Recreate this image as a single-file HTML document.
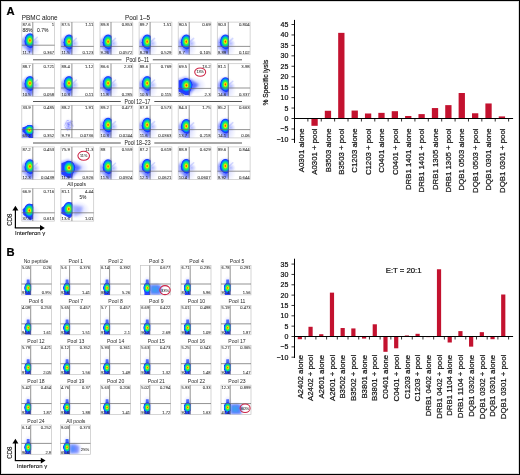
<!DOCTYPE html>
<html><head><meta charset="utf-8"><style>
html,body{margin:0;padding:0;background:#fff;width:520px;height:475px;overflow:hidden;}
svg{display:block;will-change:transform;}
</style></head><body>
<svg width="520" height="475" viewBox="0 0 520 475" font-family='"Liberation Sans", sans-serif'><defs>
<radialGradient id="jet" cx="50%" cy="50%" r="50%">
 <stop offset="0" stop-color="#ff3000"/>
 <stop offset="0.10" stop-color="#ff7800"/>
 <stop offset="0.22" stop-color="#f0f000"/>
 <stop offset="0.38" stop-color="#40f040"/>
 <stop offset="0.56" stop-color="#00d8a0"/>
 <stop offset="0.72" stop-color="#0080ff"/>
 <stop offset="0.86" stop-color="#1a3cff"/>
 <stop offset="1" stop-color="#1a3cff" stop-opacity="0"/>
</radialGradient>
<radialGradient id="bluehalo" cx="50%" cy="50%" r="50%">
 <stop offset="0" stop-color="#2a3cff" stop-opacity="0.9"/>
 <stop offset="0.5" stop-color="#4a5cff" stop-opacity="0.55"/>
 <stop offset="1" stop-color="#8a90ff" stop-opacity="0"/>
</radialGradient>
<radialGradient id="scatter" cx="50%" cy="50%" r="50%">
 <stop offset="0" stop-color="#7080ff" stop-opacity="0.45"/>
 <stop offset="1" stop-color="#a0a8ff" stop-opacity="0"/>
</radialGradient>
<filter id="bl" x="-50%" y="-50%" width="200%" height="200%"><feGaussianBlur stdDeviation="0.7"/></filter><filter id="bl2" x="-50%" y="-50%" width="200%" height="200%"><feGaussianBlur stdDeviation="1.1"/></filter>
<clipPath id="c0"><rect x="21.80" y="22.10" width="32.80" height="32.60"/></clipPath><clipPath id="c0L"><rect x="21.80" y="22.10" width="11.50" height="32.60"/></clipPath><clipPath id="c1"><rect x="60.90" y="22.10" width="32.80" height="32.60"/></clipPath><clipPath id="c1L"><rect x="60.90" y="22.10" width="11.50" height="32.60"/></clipPath><clipPath id="c2"><rect x="100.00" y="22.10" width="32.80" height="32.60"/></clipPath><clipPath id="c2L"><rect x="100.00" y="22.10" width="11.50" height="32.60"/></clipPath><clipPath id="c3"><rect x="139.10" y="22.10" width="32.80" height="32.60"/></clipPath><clipPath id="c3L"><rect x="139.10" y="22.10" width="11.50" height="32.60"/></clipPath><clipPath id="c4"><rect x="178.20" y="22.10" width="32.80" height="32.60"/></clipPath><clipPath id="c4L"><rect x="178.20" y="22.10" width="11.50" height="32.60"/></clipPath><clipPath id="c5"><rect x="217.30" y="22.10" width="32.80" height="32.60"/></clipPath><clipPath id="c5L"><rect x="217.30" y="22.10" width="11.50" height="32.60"/></clipPath><clipPath id="c6"><rect x="21.80" y="63.70" width="32.80" height="32.60"/></clipPath><clipPath id="c6L"><rect x="21.80" y="63.70" width="11.50" height="32.60"/></clipPath><clipPath id="c7"><rect x="60.90" y="63.70" width="32.80" height="32.60"/></clipPath><clipPath id="c7L"><rect x="60.90" y="63.70" width="11.50" height="32.60"/></clipPath><clipPath id="c8"><rect x="100.00" y="63.70" width="32.80" height="32.60"/></clipPath><clipPath id="c8L"><rect x="100.00" y="63.70" width="11.50" height="32.60"/></clipPath><clipPath id="c9"><rect x="139.10" y="63.70" width="32.80" height="32.60"/></clipPath><clipPath id="c9L"><rect x="139.10" y="63.70" width="11.50" height="32.60"/></clipPath><clipPath id="c10"><rect x="178.20" y="63.70" width="32.80" height="32.60"/></clipPath><clipPath id="c10L"><rect x="178.20" y="63.70" width="11.50" height="32.60"/></clipPath><clipPath id="c11"><rect x="217.30" y="63.70" width="32.80" height="32.60"/></clipPath><clipPath id="c11L"><rect x="217.30" y="63.70" width="11.50" height="32.60"/></clipPath><clipPath id="c12"><rect x="21.80" y="105.30" width="32.80" height="32.60"/></clipPath><clipPath id="c12L"><rect x="21.80" y="105.30" width="11.50" height="32.60"/></clipPath><clipPath id="c13"><rect x="60.90" y="105.30" width="32.80" height="32.60"/></clipPath><clipPath id="c13L"><rect x="60.90" y="105.30" width="11.50" height="32.60"/></clipPath><clipPath id="c14"><rect x="100.00" y="105.30" width="32.80" height="32.60"/></clipPath><clipPath id="c14L"><rect x="100.00" y="105.30" width="11.50" height="32.60"/></clipPath><clipPath id="c15"><rect x="139.10" y="105.30" width="32.80" height="32.60"/></clipPath><clipPath id="c15L"><rect x="139.10" y="105.30" width="11.50" height="32.60"/></clipPath><clipPath id="c16"><rect x="178.20" y="105.30" width="32.80" height="32.60"/></clipPath><clipPath id="c16L"><rect x="178.20" y="105.30" width="11.50" height="32.60"/></clipPath><clipPath id="c17"><rect x="217.30" y="105.30" width="32.80" height="32.60"/></clipPath><clipPath id="c17L"><rect x="217.30" y="105.30" width="11.50" height="32.60"/></clipPath><clipPath id="c18"><rect x="21.80" y="146.90" width="32.80" height="32.60"/></clipPath><clipPath id="c18L"><rect x="21.80" y="146.90" width="11.50" height="32.60"/></clipPath><clipPath id="c19"><rect x="60.90" y="146.90" width="32.80" height="32.60"/></clipPath><clipPath id="c19L"><rect x="60.90" y="146.90" width="11.50" height="32.60"/></clipPath><clipPath id="c20"><rect x="100.00" y="146.90" width="32.80" height="32.60"/></clipPath><clipPath id="c20L"><rect x="100.00" y="146.90" width="11.50" height="32.60"/></clipPath><clipPath id="c21"><rect x="139.10" y="146.90" width="32.80" height="32.60"/></clipPath><clipPath id="c21L"><rect x="139.10" y="146.90" width="11.50" height="32.60"/></clipPath><clipPath id="c22"><rect x="178.20" y="146.90" width="32.80" height="32.60"/></clipPath><clipPath id="c22L"><rect x="178.20" y="146.90" width="11.50" height="32.60"/></clipPath><clipPath id="c23"><rect x="217.30" y="146.90" width="32.80" height="32.60"/></clipPath><clipPath id="c23L"><rect x="217.30" y="146.90" width="11.50" height="32.60"/></clipPath><clipPath id="c24"><rect x="21.80" y="188.50" width="32.80" height="32.60"/></clipPath><clipPath id="c24L"><rect x="21.80" y="188.50" width="11.50" height="32.60"/></clipPath><clipPath id="c25"><rect x="60.90" y="188.50" width="32.80" height="32.60"/></clipPath><clipPath id="c25L"><rect x="60.90" y="188.50" width="11.50" height="32.60"/></clipPath><clipPath id="c26"><rect x="21.50" y="265.60" width="30.00" height="29.30"/></clipPath><clipPath id="c26L"><rect x="21.50" y="265.60" width="9.70" height="29.30"/></clipPath><clipPath id="c27"><rect x="60.40" y="265.60" width="30.00" height="29.30"/></clipPath><clipPath id="c27L"><rect x="60.40" y="265.60" width="9.70" height="29.30"/></clipPath><clipPath id="c28"><rect x="100.40" y="265.60" width="30.00" height="29.30"/></clipPath><clipPath id="c28L"><rect x="100.40" y="265.60" width="9.70" height="29.30"/></clipPath><clipPath id="c29"><rect x="140.60" y="265.60" width="30.00" height="29.30"/></clipPath><clipPath id="c29L"><rect x="140.60" y="265.60" width="9.70" height="29.30"/></clipPath><clipPath id="c30"><rect x="181.00" y="265.60" width="30.00" height="29.30"/></clipPath><clipPath id="c30L"><rect x="181.00" y="265.60" width="9.70" height="29.30"/></clipPath><clipPath id="c31"><rect x="221.00" y="265.60" width="30.00" height="29.30"/></clipPath><clipPath id="c31L"><rect x="221.00" y="265.60" width="9.70" height="29.30"/></clipPath><clipPath id="c32"><rect x="21.50" y="305.45" width="30.00" height="29.30"/></clipPath><clipPath id="c32L"><rect x="21.50" y="305.45" width="9.70" height="29.30"/></clipPath><clipPath id="c33"><rect x="60.40" y="305.45" width="30.00" height="29.30"/></clipPath><clipPath id="c33L"><rect x="60.40" y="305.45" width="9.70" height="29.30"/></clipPath><clipPath id="c34"><rect x="100.40" y="305.45" width="30.00" height="29.30"/></clipPath><clipPath id="c34L"><rect x="100.40" y="305.45" width="9.70" height="29.30"/></clipPath><clipPath id="c35"><rect x="140.60" y="305.45" width="30.00" height="29.30"/></clipPath><clipPath id="c35L"><rect x="140.60" y="305.45" width="9.70" height="29.30"/></clipPath><clipPath id="c36"><rect x="181.00" y="305.45" width="30.00" height="29.30"/></clipPath><clipPath id="c36L"><rect x="181.00" y="305.45" width="9.70" height="29.30"/></clipPath><clipPath id="c37"><rect x="221.00" y="305.45" width="30.00" height="29.30"/></clipPath><clipPath id="c37L"><rect x="221.00" y="305.45" width="9.70" height="29.30"/></clipPath><clipPath id="c38"><rect x="21.50" y="345.30" width="30.00" height="29.30"/></clipPath><clipPath id="c38L"><rect x="21.50" y="345.30" width="9.70" height="29.30"/></clipPath><clipPath id="c39"><rect x="60.40" y="345.30" width="30.00" height="29.30"/></clipPath><clipPath id="c39L"><rect x="60.40" y="345.30" width="9.70" height="29.30"/></clipPath><clipPath id="c40"><rect x="100.40" y="345.30" width="30.00" height="29.30"/></clipPath><clipPath id="c40L"><rect x="100.40" y="345.30" width="9.70" height="29.30"/></clipPath><clipPath id="c41"><rect x="140.60" y="345.30" width="30.00" height="29.30"/></clipPath><clipPath id="c41L"><rect x="140.60" y="345.30" width="9.70" height="29.30"/></clipPath><clipPath id="c42"><rect x="181.00" y="345.30" width="30.00" height="29.30"/></clipPath><clipPath id="c42L"><rect x="181.00" y="345.30" width="9.70" height="29.30"/></clipPath><clipPath id="c43"><rect x="221.00" y="345.30" width="30.00" height="29.30"/></clipPath><clipPath id="c43L"><rect x="221.00" y="345.30" width="9.70" height="29.30"/></clipPath><clipPath id="c44"><rect x="21.50" y="385.15" width="30.00" height="29.30"/></clipPath><clipPath id="c44L"><rect x="21.50" y="385.15" width="9.70" height="29.30"/></clipPath><clipPath id="c45"><rect x="60.40" y="385.15" width="30.00" height="29.30"/></clipPath><clipPath id="c45L"><rect x="60.40" y="385.15" width="9.70" height="29.30"/></clipPath><clipPath id="c46"><rect x="100.40" y="385.15" width="30.00" height="29.30"/></clipPath><clipPath id="c46L"><rect x="100.40" y="385.15" width="9.70" height="29.30"/></clipPath><clipPath id="c47"><rect x="140.60" y="385.15" width="30.00" height="29.30"/></clipPath><clipPath id="c47L"><rect x="140.60" y="385.15" width="9.70" height="29.30"/></clipPath><clipPath id="c48"><rect x="181.00" y="385.15" width="30.00" height="29.30"/></clipPath><clipPath id="c48L"><rect x="181.00" y="385.15" width="9.70" height="29.30"/></clipPath><clipPath id="c49"><rect x="221.00" y="385.15" width="30.00" height="29.30"/></clipPath><clipPath id="c49L"><rect x="221.00" y="385.15" width="9.70" height="29.30"/></clipPath><clipPath id="c50"><rect x="21.50" y="425.00" width="30.00" height="29.30"/></clipPath><clipPath id="c50L"><rect x="21.50" y="425.00" width="9.70" height="29.30"/></clipPath><clipPath id="c51"><rect x="60.40" y="425.00" width="30.00" height="29.30"/></clipPath><clipPath id="c51L"><rect x="60.40" y="425.00" width="9.70" height="29.30"/></clipPath></defs><rect x="0" y="0" width="520" height="475" fill="#fff"/><rect x="21.80" y="22.10" width="32.80" height="32.60" fill="none" stroke="#c4c4c4" stroke-width="0.7"/>
<g clip-path="url(#c0)">
<ellipse cx="29.80" cy="45.20" rx="11.00" ry="13.00" fill="url(#scatter)"/>
<line x1="32.30" y1="41.70" x2="37.30" y2="37.20" stroke="#8a94ff" stroke-opacity="0.35" stroke-width="1.5" stroke-linecap="round" filter="url(#bl)"/>
<ellipse cx="35.30" cy="42.20" rx="4.50" ry="4.00" fill="url(#scatter)"/>
<g clip-path="url(#c0L)"><polygon points="33.80,33.20 26.80,34.20 21.30,40.20 22.30,46.20 29.80,51.20 33.80,50.20" fill="#5a6aff" opacity="0.55" filter="url(#bl2)"/></g>
<g clip-path="url(#c0L)"><polygon points="26.80,45.20 33.30,45.20 33.30,52.70 30.80,53.70 27.80,51.20" fill="#4a5eff" opacity="0.5" filter="url(#bl2)"/></g>
<g clip-path="url(#c0L)"><polygon points="33.40,34.40 27.80,35.60 24.40,41.00 25.00,44.70 30.30,48.20 33.40,47.20" fill="#1e36ff" opacity="0.95" filter="url(#bl)"/></g>
<ellipse cx="29.90" cy="40.40" rx="5.60" ry="7.60" fill="url(#jet)" clip-path="url(#c0L)"/>
</g>
<line x1="32.80" y1="22.10" x2="32.80" y2="54.70" stroke="#666" stroke-width="0.7"/>
<line x1="21.80" y1="45.20" x2="54.60" y2="45.20" stroke="#666" stroke-width="0.7"/>
<text x="22.40" y="26.14" font-size="4.3" text-anchor="start" fill="#2a2a2a" stroke="#2a2a2a" stroke-width="0.05" >87.6</text>
<text x="54.20" y="26.14" font-size="4.3" text-anchor="end" fill="#2a2a2a" stroke="#2a2a2a" stroke-width="0.05" >1</text>
<text x="22.40" y="54.00" font-size="4.3" text-anchor="start" fill="#2a2a2a" stroke="#2a2a2a" stroke-width="0.05" >11.7</text>
<text x="54.20" y="54.00" font-size="4.3" text-anchor="end" fill="#2a2a2a" stroke="#2a2a2a" stroke-width="0.05" >0.367</text>
<text x="27.40" y="31.70" font-size="5" text-anchor="middle" fill="#2a2a2a" stroke="#2a2a2a" stroke-width="0.05" >88%</text>
<text x="42.80" y="31.70" font-size="5" text-anchor="middle" fill="#2a2a2a" stroke="#2a2a2a" stroke-width="0.05" >0.7%</text>
<rect x="60.90" y="22.10" width="32.80" height="32.60" fill="none" stroke="#c4c4c4" stroke-width="0.7"/>
<g clip-path="url(#c1)">
<ellipse cx="68.90" cy="46.40" rx="11.00" ry="13.00" fill="url(#scatter)"/>
<line x1="71.40" y1="42.90" x2="76.40" y2="38.40" stroke="#8a94ff" stroke-opacity="0.35" stroke-width="1.5" stroke-linecap="round" filter="url(#bl)"/>
<ellipse cx="74.40" cy="43.40" rx="4.50" ry="4.00" fill="url(#scatter)"/>
<g clip-path="url(#c1L)"><polygon points="72.90,34.40 65.90,35.40 60.40,41.40 61.40,47.40 68.90,52.40 72.90,51.40" fill="#5a6aff" opacity="0.55" filter="url(#bl2)"/></g>
<g clip-path="url(#c1L)"><polygon points="65.90,46.40 72.40,46.40 72.40,53.90 69.90,54.90 66.90,52.40" fill="#4a5eff" opacity="0.5" filter="url(#bl2)"/></g>
<g clip-path="url(#c1L)"><polygon points="72.50,35.60 66.90,36.80 63.50,42.20 64.10,45.90 69.40,49.40 72.50,48.40" fill="#1e36ff" opacity="0.95" filter="url(#bl)"/></g>
<ellipse cx="69.00" cy="41.60" rx="5.60" ry="7.60" fill="url(#jet)" clip-path="url(#c1L)"/>
</g>
<line x1="71.90" y1="22.10" x2="71.90" y2="54.70" stroke="#666" stroke-width="0.7"/>
<line x1="60.90" y1="46.40" x2="93.70" y2="46.40" stroke="#666" stroke-width="0.7"/>
<text x="61.50" y="26.14" font-size="4.3" text-anchor="start" fill="#2a2a2a" stroke="#2a2a2a" stroke-width="0.05" >87.5</text>
<text x="93.30" y="26.14" font-size="4.3" text-anchor="end" fill="#2a2a2a" stroke="#2a2a2a" stroke-width="0.05" >1.11</text>
<text x="61.50" y="54.00" font-size="4.3" text-anchor="start" fill="#2a2a2a" stroke="#2a2a2a" stroke-width="0.05" >11.5</text>
<text x="93.30" y="54.00" font-size="4.3" text-anchor="end" fill="#2a2a2a" stroke="#2a2a2a" stroke-width="0.05" >0.123</text>
<rect x="100.00" y="22.10" width="32.80" height="32.60" fill="none" stroke="#c4c4c4" stroke-width="0.7"/>
<g clip-path="url(#c2)">
<ellipse cx="108.00" cy="46.40" rx="11.00" ry="13.00" fill="url(#scatter)"/>
<line x1="110.50" y1="42.90" x2="115.50" y2="38.40" stroke="#8a94ff" stroke-opacity="0.35" stroke-width="1.5" stroke-linecap="round" filter="url(#bl)"/>
<ellipse cx="113.50" cy="43.40" rx="4.50" ry="4.00" fill="url(#scatter)"/>
<g clip-path="url(#c2L)"><polygon points="112.00,34.40 105.00,35.40 99.50,41.40 100.50,47.40 108.00,52.40 112.00,51.40" fill="#5a6aff" opacity="0.55" filter="url(#bl2)"/></g>
<g clip-path="url(#c2L)"><polygon points="105.00,46.40 111.50,46.40 111.50,53.90 109.00,54.90 106.00,52.40" fill="#4a5eff" opacity="0.5" filter="url(#bl2)"/></g>
<g clip-path="url(#c2L)"><polygon points="111.60,35.60 106.00,36.80 102.60,42.20 103.20,45.90 108.50,49.40 111.60,48.40" fill="#1e36ff" opacity="0.95" filter="url(#bl)"/></g>
<ellipse cx="108.10" cy="41.60" rx="5.60" ry="7.60" fill="url(#jet)" clip-path="url(#c2L)"/>
</g>
<line x1="111.00" y1="22.10" x2="111.00" y2="54.70" stroke="#666" stroke-width="0.7"/>
<line x1="100.00" y1="46.40" x2="132.80" y2="46.40" stroke="#666" stroke-width="0.7"/>
<text x="100.60" y="26.14" font-size="4.3" text-anchor="start" fill="#2a2a2a" stroke="#2a2a2a" stroke-width="0.05" >89.8</text>
<text x="132.40" y="26.14" font-size="4.3" text-anchor="end" fill="#2a2a2a" stroke="#2a2a2a" stroke-width="0.05" >0.853</text>
<text x="100.60" y="54.00" font-size="4.3" text-anchor="start" fill="#2a2a2a" stroke="#2a2a2a" stroke-width="0.05" >9.26</text>
<text x="132.40" y="54.00" font-size="4.3" text-anchor="end" fill="#2a2a2a" stroke="#2a2a2a" stroke-width="0.05" >0.0572</text>
<rect x="139.10" y="22.10" width="32.80" height="32.60" fill="none" stroke="#c4c4c4" stroke-width="0.7"/>
<g clip-path="url(#c3)">
<ellipse cx="147.10" cy="46.40" rx="11.00" ry="13.00" fill="url(#scatter)"/>
<line x1="149.60" y1="42.90" x2="154.60" y2="38.40" stroke="#8a94ff" stroke-opacity="0.35" stroke-width="1.5" stroke-linecap="round" filter="url(#bl)"/>
<ellipse cx="152.60" cy="43.40" rx="4.50" ry="4.00" fill="url(#scatter)"/>
<g clip-path="url(#c3L)"><polygon points="151.10,34.40 144.10,35.40 138.60,41.40 139.60,47.40 147.10,52.40 151.10,51.40" fill="#5a6aff" opacity="0.55" filter="url(#bl2)"/></g>
<g clip-path="url(#c3L)"><polygon points="144.10,46.40 150.60,46.40 150.60,53.90 148.10,54.90 145.10,52.40" fill="#4a5eff" opacity="0.5" filter="url(#bl2)"/></g>
<g clip-path="url(#c3L)"><polygon points="150.70,35.60 145.10,36.80 141.70,42.20 142.30,45.90 147.60,49.40 150.70,48.40" fill="#1e36ff" opacity="0.95" filter="url(#bl)"/></g>
<ellipse cx="147.20" cy="41.60" rx="5.60" ry="7.60" fill="url(#jet)" clip-path="url(#c3L)"/>
</g>
<line x1="150.10" y1="22.10" x2="150.10" y2="54.70" stroke="#666" stroke-width="0.7"/>
<line x1="139.10" y1="46.40" x2="171.90" y2="46.40" stroke="#666" stroke-width="0.7"/>
<text x="139.70" y="26.14" font-size="4.3" text-anchor="start" fill="#2a2a2a" stroke="#2a2a2a" stroke-width="0.05" >89.7</text>
<text x="171.50" y="26.14" font-size="4.3" text-anchor="end" fill="#2a2a2a" stroke="#2a2a2a" stroke-width="0.05" >1.51</text>
<text x="139.70" y="54.00" font-size="4.3" text-anchor="start" fill="#2a2a2a" stroke="#2a2a2a" stroke-width="0.05" >8.29</text>
<text x="171.50" y="54.00" font-size="4.3" text-anchor="end" fill="#2a2a2a" stroke="#2a2a2a" stroke-width="0.05" >0.529</text>
<rect x="178.20" y="22.10" width="32.80" height="32.60" fill="none" stroke="#c4c4c4" stroke-width="0.7"/>
<g clip-path="url(#c4)">
<ellipse cx="186.20" cy="46.40" rx="11.00" ry="13.00" fill="url(#scatter)"/>
<line x1="188.70" y1="42.90" x2="193.70" y2="38.40" stroke="#8a94ff" stroke-opacity="0.35" stroke-width="1.5" stroke-linecap="round" filter="url(#bl)"/>
<ellipse cx="191.70" cy="43.40" rx="4.50" ry="4.00" fill="url(#scatter)"/>
<g clip-path="url(#c4L)"><polygon points="190.20,34.40 183.20,35.40 177.70,41.40 178.70,47.40 186.20,52.40 190.20,51.40" fill="#5a6aff" opacity="0.55" filter="url(#bl2)"/></g>
<g clip-path="url(#c4L)"><polygon points="183.20,46.40 189.70,46.40 189.70,53.90 187.20,54.90 184.20,52.40" fill="#4a5eff" opacity="0.5" filter="url(#bl2)"/></g>
<g clip-path="url(#c4L)"><polygon points="189.80,35.60 184.20,36.80 180.80,42.20 181.40,45.90 186.70,49.40 189.80,48.40" fill="#1e36ff" opacity="0.95" filter="url(#bl)"/></g>
<ellipse cx="186.30" cy="41.60" rx="5.60" ry="7.60" fill="url(#jet)" clip-path="url(#c4L)"/>
</g>
<line x1="189.20" y1="22.10" x2="189.20" y2="54.70" stroke="#666" stroke-width="0.7"/>
<line x1="178.20" y1="46.40" x2="211.00" y2="46.40" stroke="#666" stroke-width="0.7"/>
<text x="178.80" y="26.14" font-size="4.3" text-anchor="start" fill="#2a2a2a" stroke="#2a2a2a" stroke-width="0.05" >90.5</text>
<text x="210.60" y="26.14" font-size="4.3" text-anchor="end" fill="#2a2a2a" stroke="#2a2a2a" stroke-width="0.05" >0.69</text>
<text x="178.80" y="54.00" font-size="4.3" text-anchor="start" fill="#2a2a2a" stroke="#2a2a2a" stroke-width="0.05" >8.7</text>
<text x="210.60" y="54.00" font-size="4.3" text-anchor="end" fill="#2a2a2a" stroke="#2a2a2a" stroke-width="0.05" >0.105</text>
<rect x="217.30" y="22.10" width="32.80" height="32.60" fill="none" stroke="#c4c4c4" stroke-width="0.7"/>
<g clip-path="url(#c5)">
<ellipse cx="225.30" cy="46.40" rx="11.00" ry="13.00" fill="url(#scatter)"/>
<line x1="227.80" y1="42.90" x2="232.80" y2="38.40" stroke="#8a94ff" stroke-opacity="0.35" stroke-width="1.5" stroke-linecap="round" filter="url(#bl)"/>
<ellipse cx="230.80" cy="43.40" rx="4.50" ry="4.00" fill="url(#scatter)"/>
<g clip-path="url(#c5L)"><polygon points="229.30,34.40 222.30,35.40 216.80,41.40 217.80,47.40 225.30,52.40 229.30,51.40" fill="#5a6aff" opacity="0.55" filter="url(#bl2)"/></g>
<g clip-path="url(#c5L)"><polygon points="222.30,46.40 228.80,46.40 228.80,53.90 226.30,54.90 223.30,52.40" fill="#4a5eff" opacity="0.5" filter="url(#bl2)"/></g>
<g clip-path="url(#c5L)"><polygon points="228.90,35.60 223.30,36.80 219.90,42.20 220.50,45.90 225.80,49.40 228.90,48.40" fill="#1e36ff" opacity="0.95" filter="url(#bl)"/></g>
<ellipse cx="225.40" cy="41.60" rx="5.60" ry="7.60" fill="url(#jet)" clip-path="url(#c5L)"/>
</g>
<line x1="228.30" y1="22.10" x2="228.30" y2="54.70" stroke="#666" stroke-width="0.7"/>
<line x1="217.30" y1="46.40" x2="250.10" y2="46.40" stroke="#666" stroke-width="0.7"/>
<text x="217.90" y="26.14" font-size="4.3" text-anchor="start" fill="#2a2a2a" stroke="#2a2a2a" stroke-width="0.05" >90.3</text>
<text x="249.70" y="26.14" font-size="4.3" text-anchor="end" fill="#2a2a2a" stroke="#2a2a2a" stroke-width="0.05" >0.804</text>
<text x="217.90" y="54.00" font-size="4.3" text-anchor="start" fill="#2a2a2a" stroke="#2a2a2a" stroke-width="0.05" >8.89</text>
<text x="249.70" y="54.00" font-size="4.3" text-anchor="end" fill="#2a2a2a" stroke="#2a2a2a" stroke-width="0.05" >0.102</text>
<rect x="21.80" y="63.70" width="32.80" height="32.60" fill="none" stroke="#c4c4c4" stroke-width="0.7"/>
<g clip-path="url(#c6)">
<ellipse cx="29.80" cy="88.00" rx="11.00" ry="13.00" fill="url(#scatter)"/>
<line x1="32.30" y1="84.50" x2="37.30" y2="80.00" stroke="#8a94ff" stroke-opacity="0.35" stroke-width="1.5" stroke-linecap="round" filter="url(#bl)"/>
<ellipse cx="35.30" cy="85.00" rx="4.50" ry="4.00" fill="url(#scatter)"/>
<g clip-path="url(#c6L)"><polygon points="33.80,76.00 26.80,77.00 21.30,83.00 22.30,89.00 29.80,94.00 33.80,93.00" fill="#5a6aff" opacity="0.55" filter="url(#bl2)"/></g>
<g clip-path="url(#c6L)"><polygon points="26.80,88.00 33.30,88.00 33.30,95.50 30.80,96.50 27.80,94.00" fill="#4a5eff" opacity="0.5" filter="url(#bl2)"/></g>
<g clip-path="url(#c6L)"><polygon points="33.40,77.20 27.80,78.40 24.40,83.80 25.00,87.50 30.30,91.00 33.40,90.00" fill="#1e36ff" opacity="0.95" filter="url(#bl)"/></g>
<ellipse cx="29.90" cy="83.20" rx="5.60" ry="7.60" fill="url(#jet)" clip-path="url(#c6L)"/>
</g>
<line x1="32.80" y1="63.70" x2="32.80" y2="96.30" stroke="#666" stroke-width="0.7"/>
<line x1="21.80" y1="88.00" x2="54.60" y2="88.00" stroke="#666" stroke-width="0.7"/>
<text x="22.40" y="67.74" font-size="4.3" text-anchor="start" fill="#2a2a2a" stroke="#2a2a2a" stroke-width="0.05" >88.7</text>
<text x="54.20" y="67.74" font-size="4.3" text-anchor="end" fill="#2a2a2a" stroke="#2a2a2a" stroke-width="0.05" >0.721</text>
<text x="22.40" y="95.60" font-size="4.3" text-anchor="start" fill="#2a2a2a" stroke="#2a2a2a" stroke-width="0.05" >10.5</text>
<text x="54.20" y="95.60" font-size="4.3" text-anchor="end" fill="#2a2a2a" stroke="#2a2a2a" stroke-width="0.05" >0.058</text>
<rect x="60.90" y="63.70" width="32.80" height="32.60" fill="none" stroke="#c4c4c4" stroke-width="0.7"/>
<g clip-path="url(#c7)">
<ellipse cx="68.90" cy="88.00" rx="11.00" ry="13.00" fill="url(#scatter)"/>
<line x1="71.40" y1="84.50" x2="76.40" y2="80.00" stroke="#8a94ff" stroke-opacity="0.35" stroke-width="1.5" stroke-linecap="round" filter="url(#bl)"/>
<ellipse cx="74.40" cy="85.00" rx="4.50" ry="4.00" fill="url(#scatter)"/>
<g clip-path="url(#c7L)"><polygon points="72.90,76.00 65.90,77.00 60.40,83.00 61.40,89.00 68.90,94.00 72.90,93.00" fill="#5a6aff" opacity="0.55" filter="url(#bl2)"/></g>
<g clip-path="url(#c7L)"><polygon points="65.90,88.00 72.40,88.00 72.40,95.50 69.90,96.50 66.90,94.00" fill="#4a5eff" opacity="0.5" filter="url(#bl2)"/></g>
<g clip-path="url(#c7L)"><polygon points="72.50,77.20 66.90,78.40 63.50,83.80 64.10,87.50 69.40,91.00 72.50,90.00" fill="#1e36ff" opacity="0.95" filter="url(#bl)"/></g>
<ellipse cx="69.00" cy="83.20" rx="5.60" ry="7.60" fill="url(#jet)" clip-path="url(#c7L)"/>
</g>
<line x1="71.90" y1="63.70" x2="71.90" y2="96.30" stroke="#666" stroke-width="0.7"/>
<line x1="60.90" y1="88.00" x2="93.70" y2="88.00" stroke="#666" stroke-width="0.7"/>
<text x="61.50" y="67.74" font-size="4.3" text-anchor="start" fill="#2a2a2a" stroke="#2a2a2a" stroke-width="0.05" >88.4</text>
<text x="93.30" y="67.74" font-size="4.3" text-anchor="end" fill="#2a2a2a" stroke="#2a2a2a" stroke-width="0.05" >1.12</text>
<text x="61.50" y="95.60" font-size="4.3" text-anchor="start" fill="#2a2a2a" stroke="#2a2a2a" stroke-width="0.05" >10.3</text>
<text x="93.30" y="95.60" font-size="4.3" text-anchor="end" fill="#2a2a2a" stroke="#2a2a2a" stroke-width="0.05" >0.11</text>
<rect x="100.00" y="63.70" width="32.80" height="32.60" fill="none" stroke="#c4c4c4" stroke-width="0.7"/>
<g clip-path="url(#c8)">
<ellipse cx="108.00" cy="88.00" rx="11.00" ry="13.00" fill="url(#scatter)"/>
<line x1="110.50" y1="84.50" x2="115.50" y2="80.00" stroke="#8a94ff" stroke-opacity="0.35" stroke-width="1.5" stroke-linecap="round" filter="url(#bl)"/>
<ellipse cx="113.50" cy="85.00" rx="4.50" ry="4.00" fill="url(#scatter)"/>
<g clip-path="url(#c8L)"><polygon points="112.00,76.00 105.00,77.00 99.50,83.00 100.50,89.00 108.00,94.00 112.00,93.00" fill="#5a6aff" opacity="0.55" filter="url(#bl2)"/></g>
<g clip-path="url(#c8L)"><polygon points="105.00,88.00 111.50,88.00 111.50,95.50 109.00,96.50 106.00,94.00" fill="#4a5eff" opacity="0.5" filter="url(#bl2)"/></g>
<g clip-path="url(#c8L)"><polygon points="111.60,77.20 106.00,78.40 102.60,83.80 103.20,87.50 108.50,91.00 111.60,90.00" fill="#1e36ff" opacity="0.95" filter="url(#bl)"/></g>
<ellipse cx="108.10" cy="83.20" rx="5.60" ry="7.60" fill="url(#jet)" clip-path="url(#c8L)"/>
</g>
<line x1="111.00" y1="63.70" x2="111.00" y2="96.30" stroke="#666" stroke-width="0.7"/>
<line x1="100.00" y1="88.00" x2="132.80" y2="88.00" stroke="#666" stroke-width="0.7"/>
<text x="100.60" y="67.74" font-size="4.3" text-anchor="start" fill="#2a2a2a" stroke="#2a2a2a" stroke-width="0.05" >86.6</text>
<text x="132.40" y="67.74" font-size="4.3" text-anchor="end" fill="#2a2a2a" stroke="#2a2a2a" stroke-width="0.05" >2.33</text>
<text x="100.60" y="95.60" font-size="4.3" text-anchor="start" fill="#2a2a2a" stroke="#2a2a2a" stroke-width="0.05" >11.8</text>
<text x="132.40" y="95.60" font-size="4.3" text-anchor="end" fill="#2a2a2a" stroke="#2a2a2a" stroke-width="0.05" >0.285</text>
<rect x="139.10" y="63.70" width="32.80" height="32.60" fill="none" stroke="#c4c4c4" stroke-width="0.7"/>
<g clip-path="url(#c9)">
<ellipse cx="147.10" cy="88.00" rx="11.00" ry="13.00" fill="url(#scatter)"/>
<line x1="149.60" y1="84.50" x2="154.60" y2="80.00" stroke="#8a94ff" stroke-opacity="0.35" stroke-width="1.5" stroke-linecap="round" filter="url(#bl)"/>
<ellipse cx="152.60" cy="85.00" rx="4.50" ry="4.00" fill="url(#scatter)"/>
<g clip-path="url(#c9L)"><polygon points="151.10,76.00 144.10,77.00 138.60,83.00 139.60,89.00 147.10,94.00 151.10,93.00" fill="#5a6aff" opacity="0.55" filter="url(#bl2)"/></g>
<g clip-path="url(#c9L)"><polygon points="144.10,88.00 150.60,88.00 150.60,95.50 148.10,96.50 145.10,94.00" fill="#4a5eff" opacity="0.5" filter="url(#bl2)"/></g>
<g clip-path="url(#c9L)"><polygon points="150.70,77.20 145.10,78.40 141.70,83.80 142.30,87.50 147.60,91.00 150.70,90.00" fill="#1e36ff" opacity="0.95" filter="url(#bl)"/></g>
<ellipse cx="147.20" cy="83.20" rx="5.60" ry="7.60" fill="url(#jet)" clip-path="url(#c9L)"/>
</g>
<line x1="150.10" y1="63.70" x2="150.10" y2="96.30" stroke="#666" stroke-width="0.7"/>
<line x1="139.10" y1="88.00" x2="171.90" y2="88.00" stroke="#666" stroke-width="0.7"/>
<text x="139.70" y="67.74" font-size="4.3" text-anchor="start" fill="#2a2a2a" stroke="#2a2a2a" stroke-width="0.05" >88.6</text>
<text x="171.50" y="67.74" font-size="4.3" text-anchor="end" fill="#2a2a2a" stroke="#2a2a2a" stroke-width="0.05" >0.769</text>
<text x="139.70" y="95.60" font-size="4.3" text-anchor="start" fill="#2a2a2a" stroke="#2a2a2a" stroke-width="0.05" >10.5</text>
<text x="171.50" y="95.60" font-size="4.3" text-anchor="end" fill="#2a2a2a" stroke="#2a2a2a" stroke-width="0.05" >0.115</text>
<rect x="178.20" y="63.70" width="32.80" height="32.60" fill="none" stroke="#c4c4c4" stroke-width="0.7"/>
<g clip-path="url(#c10)">
<ellipse cx="194.20" cy="85.40" rx="12.00" ry="9.00" fill="url(#scatter)"/>
<g><polygon points="185.20,76.40 190.20,78.40 199.20,84.40 193.20,90.40 189.70,96.40 185.20,96.40 177.20,92.40 177.20,79.40" fill="#5a6aff" opacity="0.5" filter="url(#bl2)"/></g>
<g><polygon points="188.20,78.90 191.20,80.40 197.70,84.90 192.20,89.90 188.20,92.40" fill="#3a50ff" opacity="0.6" filter="url(#bl2)"/></g>
<g><polygon points="185.20,77.90 189.70,79.40 192.70,84.40 190.70,89.40 189.40,94.90 185.20,94.90 178.70,91.40 178.70,80.40" fill="#1e36ff" opacity="0.92" filter="url(#bl)"/></g>
<ellipse cx="186.40" cy="85.40" rx="6.40" ry="7.60" fill="url(#jet)"/>
</g>
<line x1="189.20" y1="63.70" x2="189.20" y2="96.30" stroke="#666" stroke-width="0.7"/>
<line x1="178.20" y1="88.40" x2="211.00" y2="88.40" stroke="#666" stroke-width="0.7"/>
<text x="178.80" y="67.74" font-size="4.3" text-anchor="start" fill="#2a2a2a" stroke="#2a2a2a" stroke-width="0.05" >69.5</text>
<text x="210.60" y="67.74" font-size="4.3" text-anchor="end" fill="#2a2a2a" stroke="#2a2a2a" stroke-width="0.05" >13.2</text>
<text x="178.80" y="95.60" font-size="4.3" text-anchor="start" fill="#2a2a2a" stroke="#2a2a2a" stroke-width="0.05" >15</text>
<text x="210.60" y="95.60" font-size="4.3" text-anchor="end" fill="#2a2a2a" stroke="#2a2a2a" stroke-width="0.05" >2.3</text>
<ellipse cx="200.20" cy="72.10" rx="5.50" ry="4.20" fill="none" stroke="#cc2445" stroke-width="1.05"/>
<text x="200.20" y="73.47" font-size="3.8" text-anchor="middle" fill="#2a2a2a" stroke="#2a2a2a" stroke-width="0.05" >13%</text>
<rect x="217.30" y="63.70" width="32.80" height="32.60" fill="none" stroke="#c4c4c4" stroke-width="0.7"/>
<g clip-path="url(#c11)">
<ellipse cx="225.30" cy="89.20" rx="11.00" ry="13.00" fill="url(#scatter)"/>
<line x1="227.80" y1="85.70" x2="232.80" y2="81.20" stroke="#8a94ff" stroke-opacity="0.35" stroke-width="1.5" stroke-linecap="round" filter="url(#bl)"/>
<ellipse cx="230.80" cy="86.20" rx="4.50" ry="4.00" fill="url(#scatter)"/>
<g clip-path="url(#c11L)"><polygon points="229.30,77.20 222.30,78.20 216.80,84.20 217.80,90.20 225.30,95.20 229.30,94.20" fill="#5a6aff" opacity="0.55" filter="url(#bl2)"/></g>
<g clip-path="url(#c11L)"><polygon points="222.30,89.20 228.80,89.20 228.80,96.70 226.30,97.70 223.30,95.20" fill="#4a5eff" opacity="0.5" filter="url(#bl2)"/></g>
<g clip-path="url(#c11L)"><polygon points="228.90,78.40 223.30,79.60 219.90,85.00 220.50,88.70 225.80,92.20 228.90,91.20" fill="#1e36ff" opacity="0.95" filter="url(#bl)"/></g>
<ellipse cx="225.40" cy="84.40" rx="5.60" ry="7.60" fill="url(#jet)" clip-path="url(#c11L)"/>
</g>
<line x1="228.30" y1="63.70" x2="228.30" y2="96.30" stroke="#666" stroke-width="0.7"/>
<line x1="217.30" y1="88.00" x2="250.10" y2="88.00" stroke="#666" stroke-width="0.7"/>
<text x="217.90" y="67.74" font-size="4.3" text-anchor="start" fill="#2a2a2a" stroke="#2a2a2a" stroke-width="0.05" >81.1</text>
<text x="249.70" y="67.74" font-size="4.3" text-anchor="end" fill="#2a2a2a" stroke="#2a2a2a" stroke-width="0.05" >3.98</text>
<text x="217.90" y="95.60" font-size="4.3" text-anchor="start" fill="#2a2a2a" stroke="#2a2a2a" stroke-width="0.05" >14.6</text>
<text x="249.70" y="95.60" font-size="4.3" text-anchor="end" fill="#2a2a2a" stroke="#2a2a2a" stroke-width="0.05" >0.337</text>
<rect x="21.80" y="105.30" width="32.80" height="32.60" fill="none" stroke="#c4c4c4" stroke-width="0.7"/>
<g clip-path="url(#c12)">
<ellipse cx="29.80" cy="131.60" rx="11.00" ry="10.00" fill="url(#scatter)"/>
<g clip-path="url(#c12L)"><polygon points="21.80,129.60 29.80,129.60 29.80,137.90 21.80,137.90" fill="#6a70ff" opacity="0.5" filter="url(#bl)"/></g>
<g clip-path="url(#c12L)"><polygon points="33.30,125.40 27.80,125.80 22.30,127.40 22.60,131.60 29.30,138.10 33.30,138.10" fill="#1e36ff" opacity="0.92" filter="url(#bl)"/></g>
<ellipse cx="29.50" cy="130.00" rx="5.60" ry="5.60" fill="url(#jet)" clip-path="url(#c12L)"/>
</g>
<line x1="32.80" y1="105.30" x2="32.80" y2="137.90" stroke="#666" stroke-width="0.7"/>
<line x1="21.80" y1="129.60" x2="54.60" y2="129.60" stroke="#666" stroke-width="0.7"/>
<text x="22.40" y="109.34" font-size="4.3" text-anchor="start" fill="#2a2a2a" stroke="#2a2a2a" stroke-width="0.05" >33.9</text>
<text x="54.20" y="109.34" font-size="4.3" text-anchor="end" fill="#2a2a2a" stroke="#2a2a2a" stroke-width="0.05" >0.485</text>
<text x="22.40" y="137.20" font-size="4.3" text-anchor="start" fill="#2a2a2a" stroke="#2a2a2a" stroke-width="0.05" >65.3</text>
<text x="54.20" y="137.20" font-size="4.3" text-anchor="end" fill="#2a2a2a" stroke="#2a2a2a" stroke-width="0.05" >0.352</text>
<rect x="60.90" y="105.30" width="32.80" height="32.60" fill="none" stroke="#c4c4c4" stroke-width="0.7"/>
<g clip-path="url(#c13)">
<ellipse cx="68.70" cy="125.10" rx="6.00" ry="7.00" fill="url(#scatter)"/>
<ellipse cx="68.70" cy="125.10" rx="3.50" ry="4.00" fill="url(#scatter)"/>
<rect x="68.95" y="129.15" width="0.6" height="0.6" fill="#6a6aff" opacity="0.6"/>
<rect x="66.31" y="128.22" width="0.6" height="0.6" fill="#6a6aff" opacity="0.6"/>
<rect x="67.89" y="124.10" width="0.6" height="0.6" fill="#6a6aff" opacity="0.6"/>
<rect x="72.80" y="125.52" width="0.6" height="0.6" fill="#6a6aff" opacity="0.6"/>
<rect x="68.57" y="127.76" width="0.6" height="0.6" fill="#6a6aff" opacity="0.6"/>
<rect x="71.78" y="125.00" width="0.6" height="0.6" fill="#6a6aff" opacity="0.6"/>
<rect x="70.31" y="121.85" width="0.6" height="0.6" fill="#6a6aff" opacity="0.6"/>
<rect x="67.58" y="123.46" width="0.6" height="0.6" fill="#6a6aff" opacity="0.6"/>
<rect x="65.92" y="121.26" width="0.6" height="0.6" fill="#6a6aff" opacity="0.6"/>
<rect x="64.87" y="124.41" width="0.6" height="0.6" fill="#6a6aff" opacity="0.6"/>
<rect x="68.16" y="123.87" width="0.6" height="0.6" fill="#6a6aff" opacity="0.6"/>
<rect x="68.88" y="120.88" width="0.6" height="0.6" fill="#6a6aff" opacity="0.6"/>
<rect x="68.45" y="126.02" width="0.6" height="0.6" fill="#6a6aff" opacity="0.6"/>
<rect x="70.75" y="122.27" width="0.6" height="0.6" fill="#6a6aff" opacity="0.6"/>
<rect x="67.88" y="120.04" width="0.6" height="0.6" fill="#6a6aff" opacity="0.6"/>
<rect x="67.73" y="119.95" width="0.6" height="0.6" fill="#6a6aff" opacity="0.6"/>
<rect x="65.52" y="128.12" width="0.6" height="0.6" fill="#6a6aff" opacity="0.6"/>
<rect x="64.61" y="126.91" width="0.6" height="0.6" fill="#6a6aff" opacity="0.6"/>
<rect x="69.72" y="123.92" width="0.6" height="0.6" fill="#6a6aff" opacity="0.6"/>
<rect x="70.08" y="127.03" width="0.6" height="0.6" fill="#6a6aff" opacity="0.6"/>
<rect x="71.60" y="124.32" width="0.6" height="0.6" fill="#6a6aff" opacity="0.6"/>
<rect x="66.97" y="122.94" width="0.6" height="0.6" fill="#6a6aff" opacity="0.6"/>
<rect x="65.91" y="124.94" width="0.6" height="0.6" fill="#6a6aff" opacity="0.6"/>
<rect x="66.66" y="128.49" width="0.6" height="0.6" fill="#6a6aff" opacity="0.6"/>
<rect x="65.01" y="122.46" width="0.6" height="0.6" fill="#6a6aff" opacity="0.6"/>
<rect x="66.90" y="120.28" width="0.6" height="0.6" fill="#6a6aff" opacity="0.6"/>
<rect x="71.48" y="120.80" width="0.6" height="0.6" fill="#6a6aff" opacity="0.6"/>
<rect x="67.84" y="123.15" width="0.6" height="0.6" fill="#6a6aff" opacity="0.6"/>
<rect x="71.53" y="120.95" width="0.6" height="0.6" fill="#6a6aff" opacity="0.6"/>
<rect x="71.50" y="122.76" width="0.6" height="0.6" fill="#6a6aff" opacity="0.6"/>
<rect x="68.23" y="122.64" width="0.6" height="0.6" fill="#6a6aff" opacity="0.6"/>
<rect x="70.37" y="121.47" width="0.6" height="0.6" fill="#6a6aff" opacity="0.6"/>
<rect x="68.45" y="126.45" width="0.6" height="0.6" fill="#6a6aff" opacity="0.6"/>
<rect x="71.42" y="120.75" width="0.6" height="0.6" fill="#6a6aff" opacity="0.6"/>
<rect x="72.12" y="127.70" width="0.6" height="0.6" fill="#6a6aff" opacity="0.6"/>
<rect x="67.22" y="126.24" width="0.6" height="0.6" fill="#6a6aff" opacity="0.6"/>
<rect x="67.63" y="129.74" width="0.6" height="0.6" fill="#6a6aff" opacity="0.6"/>
<rect x="69.36" y="124.27" width="0.6" height="0.6" fill="#6a6aff" opacity="0.6"/>
<rect x="67.98" y="124.33" width="0.6" height="0.6" fill="#6a6aff" opacity="0.6"/>
<rect x="68.19" y="122.00" width="0.6" height="0.6" fill="#6a6aff" opacity="0.6"/>
<rect x="71.97" y="121.39" width="0.6" height="0.6" fill="#6a6aff" opacity="0.6"/>
<rect x="64.21" y="124.91" width="0.6" height="0.6" fill="#6a6aff" opacity="0.6"/>
<rect x="68.24" y="126.52" width="0.6" height="0.6" fill="#6a6aff" opacity="0.6"/>
<rect x="68.05" y="124.53" width="0.6" height="0.6" fill="#6a6aff" opacity="0.6"/>
<rect x="69.63" y="128.42" width="0.6" height="0.6" fill="#6a6aff" opacity="0.6"/>
<rect x="67.33" y="123.71" width="0.6" height="0.6" fill="#6a6aff" opacity="0.6"/>
<rect x="72.74" y="126.45" width="0.6" height="0.6" fill="#6a6aff" opacity="0.6"/>
<rect x="66.98" y="130.06" width="0.6" height="0.6" fill="#6a6aff" opacity="0.6"/>
<rect x="70.90" y="123.06" width="0.6" height="0.6" fill="#6a6aff" opacity="0.6"/>
<rect x="65.55" y="126.08" width="0.6" height="0.6" fill="#6a6aff" opacity="0.6"/>
<rect x="66.55" y="121.76" width="0.6" height="0.6" fill="#6a6aff" opacity="0.6"/>
<rect x="65.40" y="123.52" width="0.6" height="0.6" fill="#6a6aff" opacity="0.6"/>
<rect x="71.68" y="123.67" width="0.6" height="0.6" fill="#6a6aff" opacity="0.6"/>
<rect x="65.23" y="127.06" width="0.6" height="0.6" fill="#6a6aff" opacity="0.6"/>
<rect x="68.89" y="128.11" width="0.6" height="0.6" fill="#6a6aff" opacity="0.6"/>
<rect x="71.92" y="124.55" width="0.6" height="0.6" fill="#6a6aff" opacity="0.6"/>
<rect x="68.24" y="124.92" width="0.6" height="0.6" fill="#6a6aff" opacity="0.6"/>
<rect x="65.75" y="127.23" width="0.6" height="0.6" fill="#6a6aff" opacity="0.6"/>
<rect x="72.20" y="125.64" width="0.6" height="0.6" fill="#6a6aff" opacity="0.6"/>
<rect x="67.96" y="124.10" width="0.6" height="0.6" fill="#6a6aff" opacity="0.6"/>
<rect x="66.56" y="122.41" width="0.6" height="0.6" fill="#6a6aff" opacity="0.6"/>
<rect x="67.55" y="122.15" width="0.6" height="0.6" fill="#6a6aff" opacity="0.6"/>
<rect x="67.67" y="120.55" width="0.6" height="0.6" fill="#6a6aff" opacity="0.6"/>
<rect x="69.80" y="125.29" width="0.6" height="0.6" fill="#6a6aff" opacity="0.6"/>
<rect x="66.72" y="120.27" width="0.6" height="0.6" fill="#6a6aff" opacity="0.6"/>
<rect x="68.68" y="128.82" width="0.6" height="0.6" fill="#6a6aff" opacity="0.6"/>
<rect x="66.57" y="123.39" width="0.6" height="0.6" fill="#6a6aff" opacity="0.6"/>
<rect x="67.05" y="127.42" width="0.6" height="0.6" fill="#6a6aff" opacity="0.6"/>
<rect x="66.34" y="128.21" width="0.6" height="0.6" fill="#6a6aff" opacity="0.6"/>
<rect x="67.84" y="128.31" width="0.6" height="0.6" fill="#6a6aff" opacity="0.6"/>
<rect x="68.80" y="124.21" width="0.6" height="0.6" fill="#6a6aff" opacity="0.6"/>
<rect x="65.20" y="123.11" width="0.6" height="0.6" fill="#6a6aff" opacity="0.6"/>
<rect x="67.92" y="127.51" width="0.6" height="0.6" fill="#6a6aff" opacity="0.6"/>
<rect x="69.43" y="122.57" width="0.6" height="0.6" fill="#6a6aff" opacity="0.6"/>
<rect x="69.84" y="128.45" width="0.6" height="0.6" fill="#6a6aff" opacity="0.6"/>
<rect x="68.24" y="123.44" width="0.6" height="0.6" fill="#6a6aff" opacity="0.6"/>
<rect x="67.56" y="127.96" width="0.6" height="0.6" fill="#6a6aff" opacity="0.6"/>
<rect x="70.19" y="121.95" width="0.6" height="0.6" fill="#6a6aff" opacity="0.6"/>
<rect x="69.84" y="123.32" width="0.6" height="0.6" fill="#6a6aff" opacity="0.6"/>
<rect x="66.82" y="128.89" width="0.6" height="0.6" fill="#6a6aff" opacity="0.6"/>
<rect x="70.97" y="122.66" width="0.6" height="0.6" fill="#6a6aff" opacity="0.6"/>
<rect x="68.94" y="126.99" width="0.6" height="0.6" fill="#6a6aff" opacity="0.6"/>
<rect x="66.77" y="124.66" width="0.6" height="0.6" fill="#6a6aff" opacity="0.6"/>
<rect x="70.14" y="120.38" width="0.6" height="0.6" fill="#6a6aff" opacity="0.6"/>
<rect x="69.66" y="127.75" width="0.6" height="0.6" fill="#6a6aff" opacity="0.6"/>
<rect x="69.97" y="120.98" width="0.6" height="0.6" fill="#6a6aff" opacity="0.6"/>
<rect x="69.62" y="122.07" width="0.6" height="0.6" fill="#6a6aff" opacity="0.6"/>
<rect x="70.37" y="127.26" width="0.6" height="0.6" fill="#6a6aff" opacity="0.6"/>
<rect x="69.34" y="122.34" width="0.6" height="0.6" fill="#6a6aff" opacity="0.6"/>
<rect x="67.05" y="128.02" width="0.6" height="0.6" fill="#6a6aff" opacity="0.6"/>
</g>
<line x1="71.90" y1="105.30" x2="71.90" y2="137.90" stroke="#666" stroke-width="0.7"/>
<line x1="60.90" y1="129.60" x2="93.70" y2="129.60" stroke="#666" stroke-width="0.7"/>
<text x="61.50" y="109.34" font-size="4.3" text-anchor="start" fill="#2a2a2a" stroke="#2a2a2a" stroke-width="0.05" >88.2</text>
<text x="93.30" y="109.34" font-size="4.3" text-anchor="end" fill="#2a2a2a" stroke="#2a2a2a" stroke-width="0.05" >1.91</text>
<text x="61.50" y="137.20" font-size="4.3" text-anchor="start" fill="#2a2a2a" stroke="#2a2a2a" stroke-width="0.05" >9.79</text>
<text x="93.30" y="137.20" font-size="4.3" text-anchor="end" fill="#2a2a2a" stroke="#2a2a2a" stroke-width="0.05" >0.0736</text>
<rect x="100.00" y="105.30" width="32.80" height="32.60" fill="none" stroke="#c4c4c4" stroke-width="0.7"/>
<g clip-path="url(#c14)">
<ellipse cx="108.00" cy="129.60" rx="11.00" ry="13.00" fill="url(#scatter)"/>
<line x1="110.50" y1="126.10" x2="115.50" y2="121.60" stroke="#8a94ff" stroke-opacity="0.35" stroke-width="1.5" stroke-linecap="round" filter="url(#bl)"/>
<ellipse cx="113.50" cy="126.60" rx="4.50" ry="4.00" fill="url(#scatter)"/>
<g clip-path="url(#c14L)"><polygon points="112.00,117.60 105.00,118.60 99.50,124.60 100.50,130.60 108.00,135.60 112.00,134.60" fill="#5a6aff" opacity="0.55" filter="url(#bl2)"/></g>
<g clip-path="url(#c14L)"><polygon points="105.00,129.60 111.50,129.60 111.50,137.10 109.00,138.10 106.00,135.60" fill="#4a5eff" opacity="0.5" filter="url(#bl2)"/></g>
<g clip-path="url(#c14L)"><polygon points="111.60,118.80 106.00,120.00 102.60,125.40 103.20,129.10 108.50,132.60 111.60,131.60" fill="#1e36ff" opacity="0.95" filter="url(#bl)"/></g>
<ellipse cx="108.10" cy="124.80" rx="5.60" ry="7.60" fill="url(#jet)" clip-path="url(#c14L)"/>
</g>
<line x1="111.00" y1="105.30" x2="111.00" y2="137.90" stroke="#666" stroke-width="0.7"/>
<line x1="100.00" y1="129.60" x2="132.80" y2="129.60" stroke="#666" stroke-width="0.7"/>
<text x="100.60" y="109.34" font-size="4.3" text-anchor="start" fill="#2a2a2a" stroke="#2a2a2a" stroke-width="0.05" >89.2</text>
<text x="132.40" y="109.34" font-size="4.3" text-anchor="end" fill="#2a2a2a" stroke="#2a2a2a" stroke-width="0.05" >0.477</text>
<text x="100.60" y="137.20" font-size="4.3" text-anchor="start" fill="#2a2a2a" stroke="#2a2a2a" stroke-width="0.05" >10.3</text>
<text x="132.40" y="137.20" font-size="4.3" text-anchor="end" fill="#2a2a2a" stroke="#2a2a2a" stroke-width="0.05" >0.0244</text>
<rect x="139.10" y="105.30" width="32.80" height="32.60" fill="none" stroke="#c4c4c4" stroke-width="0.7"/>
<g clip-path="url(#c15)">
<ellipse cx="147.10" cy="129.60" rx="11.00" ry="13.00" fill="url(#scatter)"/>
<line x1="149.60" y1="126.10" x2="154.60" y2="121.60" stroke="#8a94ff" stroke-opacity="0.35" stroke-width="1.5" stroke-linecap="round" filter="url(#bl)"/>
<ellipse cx="152.60" cy="126.60" rx="4.50" ry="4.00" fill="url(#scatter)"/>
<g clip-path="url(#c15L)"><polygon points="151.10,117.60 144.10,118.60 138.60,124.60 139.60,130.60 147.10,135.60 151.10,134.60" fill="#5a6aff" opacity="0.55" filter="url(#bl2)"/></g>
<g clip-path="url(#c15L)"><polygon points="144.10,129.60 150.60,129.60 150.60,137.10 148.10,138.10 145.10,135.60" fill="#4a5eff" opacity="0.5" filter="url(#bl2)"/></g>
<g clip-path="url(#c15L)"><polygon points="150.70,118.80 145.10,120.00 141.70,125.40 142.30,129.10 147.60,132.60 150.70,131.60" fill="#1e36ff" opacity="0.95" filter="url(#bl)"/></g>
<ellipse cx="147.20" cy="124.80" rx="5.60" ry="7.60" fill="url(#jet)" clip-path="url(#c15L)"/>
</g>
<line x1="150.10" y1="105.30" x2="150.10" y2="137.90" stroke="#666" stroke-width="0.7"/>
<line x1="139.10" y1="129.60" x2="171.90" y2="129.60" stroke="#666" stroke-width="0.7"/>
<text x="139.70" y="109.34" font-size="4.3" text-anchor="start" fill="#2a2a2a" stroke="#2a2a2a" stroke-width="0.05" >87.8</text>
<text x="171.50" y="109.34" font-size="4.3" text-anchor="end" fill="#2a2a2a" stroke="#2a2a2a" stroke-width="0.05" >0.573</text>
<text x="139.70" y="137.20" font-size="4.3" text-anchor="start" fill="#2a2a2a" stroke="#2a2a2a" stroke-width="0.05" >11.6</text>
<text x="171.50" y="137.20" font-size="4.3" text-anchor="end" fill="#2a2a2a" stroke="#2a2a2a" stroke-width="0.05" >0.0363</text>
<rect x="178.20" y="105.30" width="32.80" height="32.60" fill="none" stroke="#c4c4c4" stroke-width="0.7"/>
<g clip-path="url(#c16)">
<ellipse cx="186.20" cy="130.90" rx="11.00" ry="13.00" fill="url(#scatter)"/>
<line x1="188.70" y1="127.40" x2="193.70" y2="122.90" stroke="#8a94ff" stroke-opacity="0.35" stroke-width="1.5" stroke-linecap="round" filter="url(#bl)"/>
<ellipse cx="191.70" cy="127.90" rx="4.50" ry="4.00" fill="url(#scatter)"/>
<g clip-path="url(#c16L)"><polygon points="190.20,118.90 183.20,119.90 177.70,125.90 178.70,131.90 186.20,136.90 190.20,135.90" fill="#5a6aff" opacity="0.55" filter="url(#bl2)"/></g>
<g clip-path="url(#c16L)"><polygon points="183.20,130.90 189.70,130.90 189.70,138.40 187.20,139.40 184.20,136.90" fill="#4a5eff" opacity="0.5" filter="url(#bl2)"/></g>
<g clip-path="url(#c16L)"><polygon points="189.80,120.10 184.20,121.30 180.80,126.70 181.40,130.40 186.70,133.90 189.80,132.90" fill="#1e36ff" opacity="0.95" filter="url(#bl)"/></g>
<ellipse cx="186.30" cy="126.10" rx="5.60" ry="7.60" fill="url(#jet)" clip-path="url(#c16L)"/>
</g>
<line x1="189.20" y1="105.30" x2="189.20" y2="137.90" stroke="#666" stroke-width="0.7"/>
<line x1="178.20" y1="129.60" x2="211.00" y2="129.60" stroke="#666" stroke-width="0.7"/>
<text x="178.80" y="109.34" font-size="4.3" text-anchor="start" fill="#2a2a2a" stroke="#2a2a2a" stroke-width="0.05" >84.3</text>
<text x="210.60" y="109.34" font-size="4.3" text-anchor="end" fill="#2a2a2a" stroke="#2a2a2a" stroke-width="0.05" >1.75</text>
<text x="178.80" y="137.20" font-size="4.3" text-anchor="start" fill="#2a2a2a" stroke="#2a2a2a" stroke-width="0.05" >13.7</text>
<text x="210.60" y="137.20" font-size="4.3" text-anchor="end" fill="#2a2a2a" stroke="#2a2a2a" stroke-width="0.05" >0.218</text>
<rect x="217.30" y="105.30" width="32.80" height="32.60" fill="none" stroke="#c4c4c4" stroke-width="0.7"/>
<g clip-path="url(#c17)">
<ellipse cx="225.30" cy="130.60" rx="11.00" ry="13.00" fill="url(#scatter)"/>
<line x1="227.80" y1="127.10" x2="232.80" y2="122.60" stroke="#8a94ff" stroke-opacity="0.35" stroke-width="1.5" stroke-linecap="round" filter="url(#bl)"/>
<ellipse cx="230.80" cy="127.60" rx="4.50" ry="4.00" fill="url(#scatter)"/>
<g clip-path="url(#c17L)"><polygon points="229.30,118.60 222.30,119.60 216.80,125.60 217.80,131.60 225.30,136.60 229.30,135.60" fill="#5a6aff" opacity="0.55" filter="url(#bl2)"/></g>
<g clip-path="url(#c17L)"><polygon points="222.30,130.60 228.80,130.60 228.80,138.10 226.30,139.10 223.30,136.60" fill="#4a5eff" opacity="0.5" filter="url(#bl2)"/></g>
<g clip-path="url(#c17L)"><polygon points="228.90,119.80 223.30,121.00 219.90,126.40 220.50,130.10 225.80,133.60 228.90,132.60" fill="#1e36ff" opacity="0.95" filter="url(#bl)"/></g>
<ellipse cx="225.40" cy="125.80" rx="5.60" ry="7.60" fill="url(#jet)" clip-path="url(#c17L)"/>
</g>
<line x1="228.30" y1="105.30" x2="228.30" y2="137.90" stroke="#666" stroke-width="0.7"/>
<line x1="217.30" y1="129.60" x2="250.10" y2="129.60" stroke="#666" stroke-width="0.7"/>
<text x="217.90" y="109.34" font-size="4.3" text-anchor="start" fill="#2a2a2a" stroke="#2a2a2a" stroke-width="0.05" >85.2</text>
<text x="249.70" y="109.34" font-size="4.3" text-anchor="end" fill="#2a2a2a" stroke="#2a2a2a" stroke-width="0.05" >0.663</text>
<text x="217.90" y="137.20" font-size="4.3" text-anchor="start" fill="#2a2a2a" stroke="#2a2a2a" stroke-width="0.05" >14.1</text>
<text x="249.70" y="137.20" font-size="4.3" text-anchor="end" fill="#2a2a2a" stroke="#2a2a2a" stroke-width="0.05" >0.06</text>
<rect x="21.80" y="146.90" width="32.80" height="32.60" fill="none" stroke="#c4c4c4" stroke-width="0.7"/>
<g clip-path="url(#c18)">
<ellipse cx="29.80" cy="171.20" rx="11.00" ry="13.00" fill="url(#scatter)"/>
<line x1="32.30" y1="167.70" x2="37.30" y2="163.20" stroke="#8a94ff" stroke-opacity="0.35" stroke-width="1.5" stroke-linecap="round" filter="url(#bl)"/>
<ellipse cx="35.30" cy="168.20" rx="4.50" ry="4.00" fill="url(#scatter)"/>
<g clip-path="url(#c18L)"><polygon points="33.80,159.20 26.80,160.20 21.30,166.20 22.30,172.20 29.80,177.20 33.80,176.20" fill="#5a6aff" opacity="0.55" filter="url(#bl2)"/></g>
<g clip-path="url(#c18L)"><polygon points="26.80,171.20 33.30,171.20 33.30,178.70 30.80,179.70 27.80,177.20" fill="#4a5eff" opacity="0.5" filter="url(#bl2)"/></g>
<g clip-path="url(#c18L)"><polygon points="33.40,160.40 27.80,161.60 24.40,167.00 25.00,170.70 30.30,174.20 33.40,173.20" fill="#1e36ff" opacity="0.95" filter="url(#bl)"/></g>
<ellipse cx="29.90" cy="166.40" rx="5.60" ry="7.60" fill="url(#jet)" clip-path="url(#c18L)"/>
</g>
<line x1="32.80" y1="146.90" x2="32.80" y2="179.50" stroke="#666" stroke-width="0.7"/>
<line x1="21.80" y1="171.20" x2="54.60" y2="171.20" stroke="#666" stroke-width="0.7"/>
<text x="22.40" y="150.94" font-size="4.3" text-anchor="start" fill="#2a2a2a" stroke="#2a2a2a" stroke-width="0.05" >87.2</text>
<text x="54.20" y="150.94" font-size="4.3" text-anchor="end" fill="#2a2a2a" stroke="#2a2a2a" stroke-width="0.05" >0.453</text>
<text x="22.40" y="178.80" font-size="4.3" text-anchor="start" fill="#2a2a2a" stroke="#2a2a2a" stroke-width="0.05" >12.3</text>
<text x="54.20" y="178.80" font-size="4.3" text-anchor="end" fill="#2a2a2a" stroke="#2a2a2a" stroke-width="0.05" >0.0439</text>
<rect x="60.90" y="146.90" width="32.80" height="32.60" fill="none" stroke="#c4c4c4" stroke-width="0.7"/>
<g clip-path="url(#c19)">
<ellipse cx="76.90" cy="168.20" rx="12.00" ry="9.00" fill="url(#scatter)"/>
<g><polygon points="67.90,159.20 72.90,161.20 81.90,167.20 75.90,173.20 72.40,179.20 67.90,179.20 59.90,175.20 59.90,162.20" fill="#5a6aff" opacity="0.5" filter="url(#bl2)"/></g>
<g><polygon points="70.90,161.70 73.90,163.20 80.40,167.70 74.90,172.70 70.90,175.20" fill="#3a50ff" opacity="0.6" filter="url(#bl2)"/></g>
<g><polygon points="67.90,160.70 72.40,162.20 75.40,167.20 73.40,172.20 72.10,177.70 67.90,177.70 61.40,174.20 61.40,163.20" fill="#1e36ff" opacity="0.92" filter="url(#bl)"/></g>
<ellipse cx="69.10" cy="167.90" rx="6.40" ry="7.60" fill="url(#jet)"/>
</g>
<line x1="71.90" y1="146.90" x2="71.90" y2="179.50" stroke="#666" stroke-width="0.7"/>
<line x1="60.90" y1="171.20" x2="93.70" y2="171.20" stroke="#666" stroke-width="0.7"/>
<text x="61.50" y="150.94" font-size="4.3" text-anchor="start" fill="#2a2a2a" stroke="#2a2a2a" stroke-width="0.05" >75.9</text>
<text x="93.30" y="150.94" font-size="4.3" text-anchor="end" fill="#2a2a2a" stroke="#2a2a2a" stroke-width="0.05" >11.3</text>
<text x="61.50" y="178.80" font-size="4.3" text-anchor="start" fill="#2a2a2a" stroke="#2a2a2a" stroke-width="0.05" >11.9</text>
<text x="93.30" y="178.80" font-size="4.3" text-anchor="end" fill="#2a2a2a" stroke="#2a2a2a" stroke-width="0.05" >0.926</text>
<ellipse cx="83.70" cy="155.80" rx="5.80" ry="4.50" fill="none" stroke="#cc2445" stroke-width="1.05"/>
<text x="83.70" y="157.17" font-size="3.8" text-anchor="middle" fill="#2a2a2a" stroke="#2a2a2a" stroke-width="0.05" >11%</text>
<rect x="100.00" y="146.90" width="32.80" height="32.60" fill="none" stroke="#c4c4c4" stroke-width="0.7"/>
<g clip-path="url(#c20)">
<ellipse cx="108.00" cy="171.20" rx="11.00" ry="13.00" fill="url(#scatter)"/>
<line x1="110.50" y1="167.70" x2="115.50" y2="163.20" stroke="#8a94ff" stroke-opacity="0.35" stroke-width="1.5" stroke-linecap="round" filter="url(#bl)"/>
<ellipse cx="113.50" cy="168.20" rx="4.50" ry="4.00" fill="url(#scatter)"/>
<g clip-path="url(#c20L)"><polygon points="112.00,159.20 105.00,160.20 99.50,166.20 100.50,172.20 108.00,177.20 112.00,176.20" fill="#5a6aff" opacity="0.55" filter="url(#bl2)"/></g>
<g clip-path="url(#c20L)"><polygon points="105.00,171.20 111.50,171.20 111.50,178.70 109.00,179.70 106.00,177.20" fill="#4a5eff" opacity="0.5" filter="url(#bl2)"/></g>
<g clip-path="url(#c20L)"><polygon points="111.60,160.40 106.00,161.60 102.60,167.00 103.20,170.70 108.50,174.20 111.60,173.20" fill="#1e36ff" opacity="0.95" filter="url(#bl)"/></g>
<ellipse cx="108.10" cy="166.40" rx="5.60" ry="7.60" fill="url(#jet)" clip-path="url(#c20L)"/>
</g>
<line x1="111.00" y1="146.90" x2="111.00" y2="179.50" stroke="#666" stroke-width="0.7"/>
<line x1="100.00" y1="171.20" x2="132.80" y2="171.20" stroke="#666" stroke-width="0.7"/>
<text x="100.60" y="150.94" font-size="4.3" text-anchor="start" fill="#2a2a2a" stroke="#2a2a2a" stroke-width="0.05" >88</text>
<text x="132.40" y="150.94" font-size="4.3" text-anchor="end" fill="#2a2a2a" stroke="#2a2a2a" stroke-width="0.05" >0.559</text>
<text x="100.60" y="178.80" font-size="4.3" text-anchor="start" fill="#2a2a2a" stroke="#2a2a2a" stroke-width="0.05" >11.5</text>
<text x="132.40" y="178.80" font-size="4.3" text-anchor="end" fill="#2a2a2a" stroke="#2a2a2a" stroke-width="0.05" >0.0924</text>
<rect x="139.10" y="146.90" width="32.80" height="32.60" fill="none" stroke="#c4c4c4" stroke-width="0.7"/>
<g clip-path="url(#c21)">
<ellipse cx="147.10" cy="170.80" rx="11.00" ry="13.00" fill="url(#scatter)"/>
<line x1="149.60" y1="167.30" x2="154.60" y2="162.80" stroke="#8a94ff" stroke-opacity="0.35" stroke-width="1.5" stroke-linecap="round" filter="url(#bl)"/>
<ellipse cx="152.60" cy="167.80" rx="4.50" ry="4.00" fill="url(#scatter)"/>
<g clip-path="url(#c21L)"><polygon points="151.10,158.80 144.10,159.80 138.60,165.80 139.60,171.80 147.10,176.80 151.10,175.80" fill="#5a6aff" opacity="0.55" filter="url(#bl2)"/></g>
<g clip-path="url(#c21L)"><polygon points="144.10,170.80 150.60,170.80 150.60,178.30 148.10,179.30 145.10,176.80" fill="#4a5eff" opacity="0.5" filter="url(#bl2)"/></g>
<g clip-path="url(#c21L)"><polygon points="150.70,160.00 145.10,161.20 141.70,166.60 142.30,170.30 147.60,173.80 150.70,172.80" fill="#1e36ff" opacity="0.95" filter="url(#bl)"/></g>
<ellipse cx="147.20" cy="166.00" rx="5.60" ry="7.60" fill="url(#jet)" clip-path="url(#c21L)"/>
</g>
<line x1="150.10" y1="146.90" x2="150.10" y2="179.50" stroke="#666" stroke-width="0.7"/>
<line x1="139.10" y1="171.20" x2="171.90" y2="171.20" stroke="#666" stroke-width="0.7"/>
<text x="139.70" y="150.94" font-size="4.3" text-anchor="start" fill="#2a2a2a" stroke="#2a2a2a" stroke-width="0.05" >87.2</text>
<text x="171.50" y="150.94" font-size="4.3" text-anchor="end" fill="#2a2a2a" stroke="#2a2a2a" stroke-width="0.05" >0.619</text>
<text x="139.70" y="178.80" font-size="4.3" text-anchor="start" fill="#2a2a2a" stroke="#2a2a2a" stroke-width="0.05" >12.1</text>
<text x="171.50" y="178.80" font-size="4.3" text-anchor="end" fill="#2a2a2a" stroke="#2a2a2a" stroke-width="0.05" >0.0621</text>
<rect x="178.20" y="146.90" width="32.80" height="32.60" fill="none" stroke="#c4c4c4" stroke-width="0.7"/>
<g clip-path="url(#c22)">
<ellipse cx="186.20" cy="170.80" rx="11.00" ry="13.00" fill="url(#scatter)"/>
<line x1="188.70" y1="167.30" x2="193.70" y2="162.80" stroke="#8a94ff" stroke-opacity="0.35" stroke-width="1.5" stroke-linecap="round" filter="url(#bl)"/>
<ellipse cx="191.70" cy="167.80" rx="4.50" ry="4.00" fill="url(#scatter)"/>
<g clip-path="url(#c22L)"><polygon points="190.20,158.80 183.20,159.80 177.70,165.80 178.70,171.80 186.20,176.80 190.20,175.80" fill="#5a6aff" opacity="0.55" filter="url(#bl2)"/></g>
<g clip-path="url(#c22L)"><polygon points="183.20,170.80 189.70,170.80 189.70,178.30 187.20,179.30 184.20,176.80" fill="#4a5eff" opacity="0.5" filter="url(#bl2)"/></g>
<g clip-path="url(#c22L)"><polygon points="189.80,160.00 184.20,161.20 180.80,166.60 181.40,170.30 186.70,173.80 189.80,172.80" fill="#1e36ff" opacity="0.95" filter="url(#bl)"/></g>
<ellipse cx="186.30" cy="166.00" rx="5.60" ry="7.60" fill="url(#jet)" clip-path="url(#c22L)"/>
</g>
<line x1="189.20" y1="146.90" x2="189.20" y2="179.50" stroke="#666" stroke-width="0.7"/>
<line x1="178.20" y1="171.20" x2="211.00" y2="171.20" stroke="#666" stroke-width="0.7"/>
<text x="178.80" y="150.94" font-size="4.3" text-anchor="start" fill="#2a2a2a" stroke="#2a2a2a" stroke-width="0.05" >88.9</text>
<text x="210.60" y="150.94" font-size="4.3" text-anchor="end" fill="#2a2a2a" stroke="#2a2a2a" stroke-width="0.05" >0.629</text>
<text x="178.80" y="178.80" font-size="4.3" text-anchor="start" fill="#2a2a2a" stroke="#2a2a2a" stroke-width="0.05" >10.4</text>
<text x="210.60" y="178.80" font-size="4.3" text-anchor="end" fill="#2a2a2a" stroke="#2a2a2a" stroke-width="0.05" >0.0607</text>
<rect x="217.30" y="146.90" width="32.80" height="32.60" fill="none" stroke="#c4c4c4" stroke-width="0.7"/>
<g clip-path="url(#c23)">
<ellipse cx="225.30" cy="170.80" rx="11.00" ry="13.00" fill="url(#scatter)"/>
<line x1="227.80" y1="167.30" x2="232.80" y2="162.80" stroke="#8a94ff" stroke-opacity="0.35" stroke-width="1.5" stroke-linecap="round" filter="url(#bl)"/>
<ellipse cx="230.80" cy="167.80" rx="4.50" ry="4.00" fill="url(#scatter)"/>
<g clip-path="url(#c23L)"><polygon points="229.30,158.80 222.30,159.80 216.80,165.80 217.80,171.80 225.30,176.80 229.30,175.80" fill="#5a6aff" opacity="0.55" filter="url(#bl2)"/></g>
<g clip-path="url(#c23L)"><polygon points="222.30,170.80 228.80,170.80 228.80,178.30 226.30,179.30 223.30,176.80" fill="#4a5eff" opacity="0.5" filter="url(#bl2)"/></g>
<g clip-path="url(#c23L)"><polygon points="228.90,160.00 223.30,161.20 219.90,166.60 220.50,170.30 225.80,173.80 228.90,172.80" fill="#1e36ff" opacity="0.95" filter="url(#bl)"/></g>
<ellipse cx="225.40" cy="166.00" rx="5.60" ry="7.60" fill="url(#jet)" clip-path="url(#c23L)"/>
</g>
<line x1="228.30" y1="146.90" x2="228.30" y2="179.50" stroke="#666" stroke-width="0.7"/>
<line x1="217.30" y1="171.20" x2="250.10" y2="171.20" stroke="#666" stroke-width="0.7"/>
<text x="217.90" y="150.94" font-size="4.3" text-anchor="start" fill="#2a2a2a" stroke="#2a2a2a" stroke-width="0.05" >89.6</text>
<text x="249.70" y="150.94" font-size="4.3" text-anchor="end" fill="#2a2a2a" stroke="#2a2a2a" stroke-width="0.05" >0.844</text>
<text x="217.90" y="178.80" font-size="4.3" text-anchor="start" fill="#2a2a2a" stroke="#2a2a2a" stroke-width="0.05" >8.92</text>
<text x="249.70" y="178.80" font-size="4.3" text-anchor="end" fill="#2a2a2a" stroke="#2a2a2a" stroke-width="0.05" >0.644</text>
<rect x="21.80" y="188.50" width="32.80" height="32.60" fill="none" stroke="#c4c4c4" stroke-width="0.7"/>
<g clip-path="url(#c24)">
<ellipse cx="29.80" cy="214.80" rx="11.00" ry="12.00" fill="url(#scatter)"/>
<g clip-path="url(#c24L)"><polygon points="33.40,203.80 27.80,204.80 22.60,209.30 23.30,214.80 30.30,220.30 33.40,218.80" fill="#1e36ff" opacity="0.92" filter="url(#bl)"/></g>
<ellipse cx="29.30" cy="210.50" rx="5.60" ry="7.40" fill="url(#jet)" clip-path="url(#c24L)"/>
</g>
<line x1="32.80" y1="188.50" x2="32.80" y2="221.10" stroke="#666" stroke-width="0.7"/>
<line x1="21.80" y1="212.80" x2="54.60" y2="212.80" stroke="#666" stroke-width="0.7"/>
<text x="22.40" y="192.54" font-size="4.3" text-anchor="start" fill="#2a2a2a" stroke="#2a2a2a" stroke-width="0.05" >66.9</text>
<text x="54.20" y="192.54" font-size="4.3" text-anchor="end" fill="#2a2a2a" stroke="#2a2a2a" stroke-width="0.05" >0.716</text>
<text x="22.40" y="220.40" font-size="4.3" text-anchor="start" fill="#2a2a2a" stroke="#2a2a2a" stroke-width="0.05" >37.9</text>
<text x="54.20" y="220.40" font-size="4.3" text-anchor="end" fill="#2a2a2a" stroke="#2a2a2a" stroke-width="0.05" >0.613</text>
<rect x="60.90" y="188.50" width="32.80" height="32.60" fill="none" stroke="#c4c4c4" stroke-width="0.7"/>
<g clip-path="url(#c25)">
<ellipse cx="77.90" cy="209.80" rx="12.00" ry="9.00" fill="url(#scatter)"/>
<g><polygon points="71.90,204.80 82.90,206.80 80.90,213.80 73.90,216.80" fill="#5a6cff" opacity="0.38" filter="url(#bl2)"/></g>
<g clip-path="url(#c25L)"><polygon points="72.50,202.30 66.90,203.30 61.40,207.80 61.40,213.80 69.90,218.30 72.50,215.80" fill="#1e36ff" opacity="0.92" filter="url(#bl)"/></g>
<ellipse cx="68.70" cy="209.00" rx="5.80" ry="7.60" fill="url(#jet)" clip-path="url(#c25L)"/>
</g>
<line x1="71.90" y1="188.50" x2="71.90" y2="221.10" stroke="#666" stroke-width="0.7"/>
<line x1="60.90" y1="212.80" x2="93.70" y2="212.80" stroke="#666" stroke-width="0.7"/>
<text x="61.50" y="192.54" font-size="4.3" text-anchor="start" fill="#2a2a2a" stroke="#2a2a2a" stroke-width="0.05" >81.1</text>
<text x="93.30" y="192.54" font-size="4.3" text-anchor="end" fill="#2a2a2a" stroke="#2a2a2a" stroke-width="0.05" >4.44</text>
<text x="61.50" y="220.40" font-size="4.3" text-anchor="start" fill="#2a2a2a" stroke="#2a2a2a" stroke-width="0.05" >13.6</text>
<text x="93.30" y="220.40" font-size="4.3" text-anchor="end" fill="#2a2a2a" stroke="#2a2a2a" stroke-width="0.05" >1.01</text>
<text x="82.90" y="199.30" font-size="4.6" text-anchor="middle" fill="#2a2a2a" stroke="#2a2a2a" stroke-width="0.05" >5%</text>
<text x="21.80" y="19.90" font-size="6.4" text-anchor="start" fill="#222" stroke="#222" stroke-width="0.03" >PBMC alone</text>
<text x="137.50" y="19.90" font-size="6.4" text-anchor="middle" fill="#222" stroke="#222" stroke-width="0.03" >Pool 1–5</text>
<line x1="33" y1="59.8" x2="121.5" y2="59.8" stroke="#555" stroke-width="1"/>
<line x1="152.8" y1="59.8" x2="242" y2="59.8" stroke="#555" stroke-width="1"/>
<text x="0" y="0" font-size="6.4" text-anchor="middle" fill="#222" stroke="#222" stroke-width="0.03" transform="translate(137.50,62.00) scale(0.82,1)">Pool 6–11</text>
<line x1="33" y1="101.5" x2="120.8" y2="101.5" stroke="#555" stroke-width="1"/>
<line x1="154.3" y1="101.5" x2="242" y2="101.5" stroke="#555" stroke-width="1"/>
<text x="0" y="0" font-size="6.4" text-anchor="middle" fill="#222" stroke="#222" stroke-width="0.03" transform="translate(137.50,103.70) scale(0.8,1)">Pool 12–17</text>
<line x1="33" y1="143.0" x2="120.8" y2="143.0" stroke="#555" stroke-width="1"/>
<line x1="154.3" y1="143.0" x2="242" y2="143.0" stroke="#555" stroke-width="1"/>
<text x="0" y="0" font-size="6.4" text-anchor="middle" fill="#222" stroke="#222" stroke-width="0.03" transform="translate(137.50,145.20) scale(0.81,1)">Pool 18–23</text>
<text x="76.60" y="185.90" font-size="4.95" text-anchor="middle" fill="#222" stroke="#222" stroke-width="0.03" >All pools</text>
<rect x="21.50" y="265.60" width="30.00" height="29.30" fill="none" stroke="#c4c4c4" stroke-width="0.7"/>
<g clip-path="url(#c26)">
<ellipse cx="28.20" cy="285.60" rx="5.00" ry="10.00" fill="url(#scatter)"/>
<g><polygon points="26.80,279.60 29.50,279.60 29.90,283.70 26.60,283.70" fill="#2a48ff" opacity="0.8" filter="url(#bl)"/></g>
<g clip-path="url(#c26L)"><polygon points="25.30,284.50 31.10,284.20 31.10,294.90 25.30,294.90" fill="#1e36ff" opacity="0.9" filter="url(#bl)"/></g>
<ellipse cx="28.20" cy="287.90" rx="4.20" ry="5.60" fill="url(#jet)" clip-path="url(#c26L)"/>
</g>
<line x1="30.70" y1="265.60" x2="30.70" y2="294.90" stroke="#666" stroke-width="0.7"/>
<line x1="21.50" y1="284.00" x2="51.50" y2="284.00" stroke="#666" stroke-width="0.7"/>
<text x="22.10" y="269.48" font-size="4.1" text-anchor="start" fill="#2a2a2a" stroke="#2a2a2a" stroke-width="0.05" >5.05</text>
<text x="51.10" y="269.48" font-size="4.1" text-anchor="end" fill="#2a2a2a" stroke="#2a2a2a" stroke-width="0.05" >0.26</text>
<text x="22.10" y="294.20" font-size="4.1" text-anchor="start" fill="#2a2a2a" stroke="#2a2a2a" stroke-width="0.05" >93.1</text>
<text x="51.10" y="294.20" font-size="4.1" text-anchor="end" fill="#2a2a2a" stroke="#2a2a2a" stroke-width="0.05" >0.9%</text>
<text x="36.00" y="263.20" font-size="5.1" text-anchor="middle" fill="#2a2a2a" >No peptide</text>
<rect x="60.40" y="265.60" width="30.00" height="29.30" fill="none" stroke="#c4c4c4" stroke-width="0.7"/>
<g clip-path="url(#c27)">
<ellipse cx="67.10" cy="285.60" rx="5.00" ry="10.00" fill="url(#scatter)"/>
<g><polygon points="65.70,279.60 68.40,279.60 68.80,283.70 65.50,283.70" fill="#2a48ff" opacity="0.8" filter="url(#bl)"/></g>
<g clip-path="url(#c27L)"><polygon points="64.20,284.50 70.00,284.20 70.00,294.90 64.20,294.90" fill="#1e36ff" opacity="0.9" filter="url(#bl)"/></g>
<ellipse cx="67.10" cy="287.90" rx="4.20" ry="5.60" fill="url(#jet)" clip-path="url(#c27L)"/>
</g>
<line x1="69.60" y1="265.60" x2="69.60" y2="294.90" stroke="#666" stroke-width="0.7"/>
<line x1="60.40" y1="284.00" x2="90.40" y2="284.00" stroke="#666" stroke-width="0.7"/>
<text x="61.00" y="269.48" font-size="4.1" text-anchor="start" fill="#2a2a2a" stroke="#2a2a2a" stroke-width="0.05" >5.6</text>
<text x="90.00" y="269.48" font-size="4.1" text-anchor="end" fill="#2a2a2a" stroke="#2a2a2a" stroke-width="0.05" >0.376</text>
<text x="61.00" y="294.20" font-size="4.1" text-anchor="start" fill="#2a2a2a" stroke="#2a2a2a" stroke-width="0.05" >92.6</text>
<text x="90.00" y="294.20" font-size="4.1" text-anchor="end" fill="#2a2a2a" stroke="#2a2a2a" stroke-width="0.05" >1.41</text>
<text x="75.80" y="263.20" font-size="5.1" text-anchor="middle" fill="#2a2a2a" >Pool 1</text>
<rect x="100.40" y="265.60" width="30.00" height="29.30" fill="none" stroke="#c4c4c4" stroke-width="0.7"/>
<g clip-path="url(#c28)">
<ellipse cx="107.10" cy="285.60" rx="5.00" ry="10.00" fill="url(#scatter)"/>
<g><polygon points="105.70,279.60 108.40,279.60 108.80,283.70 105.50,283.70" fill="#2a48ff" opacity="0.8" filter="url(#bl)"/></g>
<g clip-path="url(#c28L)"><polygon points="104.20,284.50 110.00,284.20 110.00,294.90 104.20,294.90" fill="#1e36ff" opacity="0.9" filter="url(#bl)"/></g>
<ellipse cx="107.10" cy="287.90" rx="4.20" ry="5.60" fill="url(#jet)" clip-path="url(#c28L)"/>
</g>
<line x1="109.60" y1="265.60" x2="109.60" y2="294.90" stroke="#666" stroke-width="0.7"/>
<line x1="100.40" y1="284.00" x2="130.40" y2="284.00" stroke="#666" stroke-width="0.7"/>
<text x="101.00" y="269.48" font-size="4.1" text-anchor="start" fill="#2a2a2a" stroke="#2a2a2a" stroke-width="0.05" >6.14</text>
<text x="130.00" y="269.48" font-size="4.1" text-anchor="end" fill="#2a2a2a" stroke="#2a2a2a" stroke-width="0.05" >0.392</text>
<text x="101.00" y="294.20" font-size="4.1" text-anchor="start" fill="#2a2a2a" stroke="#2a2a2a" stroke-width="0.05" >88.2</text>
<text x="130.00" y="294.20" font-size="4.1" text-anchor="end" fill="#2a2a2a" stroke="#2a2a2a" stroke-width="0.05" >5.26</text>
<text x="115.60" y="263.20" font-size="5.1" text-anchor="middle" fill="#2a2a2a" >Pool 2</text>
<rect x="140.60" y="265.60" width="30.00" height="29.30" fill="none" stroke="#c4c4c4" stroke-width="0.7"/>
<g clip-path="url(#c29)">
<ellipse cx="155.80" cy="289.50" rx="9.00" ry="7.00" fill="url(#scatter)"/>
<g><polygon points="150.10,284.80 157.80,284.50 161.30,286.00 160.80,294.60 150.10,294.60" fill="#3a5cff" opacity="0.75" filter="url(#bl2)"/></g>
<g><polygon points="151.80,286.50 157.80,286.50 158.30,292.40 151.80,292.40" fill="#20b8e8" opacity="0.55" filter="url(#bl2)"/></g>
<ellipse cx="147.30" cy="285.60" rx="5.00" ry="10.00" fill="url(#scatter)"/>
<g><polygon points="145.90,279.60 148.60,279.60 149.00,283.70 145.70,283.70" fill="#2a48ff" opacity="0.8" filter="url(#bl)"/></g>
<g clip-path="url(#c29L)"><polygon points="144.40,284.50 150.20,284.20 150.20,294.90 144.40,294.90" fill="#1e36ff" opacity="0.9" filter="url(#bl)"/></g>
<ellipse cx="147.30" cy="287.90" rx="4.20" ry="5.60" fill="url(#jet)" clip-path="url(#c29L)"/>
</g>
<line x1="149.80" y1="265.60" x2="149.80" y2="294.90" stroke="#666" stroke-width="0.7"/>
<line x1="140.60" y1="284.00" x2="170.60" y2="284.00" stroke="#666" stroke-width="0.7"/>
<text x="170.20" y="269.48" font-size="4.1" text-anchor="end" fill="#2a2a2a" stroke="#2a2a2a" stroke-width="0.05" >0.677</text>
<ellipse cx="165.00" cy="290.10" rx="5.20" ry="4.50" fill="none" stroke="#cc2445" stroke-width="1.05"/>
<text x="165.00" y="291.58" font-size="4.1" text-anchor="middle" fill="#2a2a2a" stroke="#2a2a2a" stroke-width="0.05" >33%</text>
<text x="156.30" y="263.20" font-size="5.1" text-anchor="middle" fill="#2a2a2a" >Pool 3</text>
<rect x="181.00" y="265.60" width="30.00" height="29.30" fill="none" stroke="#c4c4c4" stroke-width="0.7"/>
<g clip-path="url(#c30)">
<ellipse cx="187.70" cy="285.60" rx="5.00" ry="10.00" fill="url(#scatter)"/>
<g><polygon points="186.30,279.60 189.00,279.60 189.40,283.70 186.10,283.70" fill="#2a48ff" opacity="0.8" filter="url(#bl)"/></g>
<g clip-path="url(#c30L)"><polygon points="184.80,284.50 190.60,284.20 190.60,294.90 184.80,294.90" fill="#1e36ff" opacity="0.9" filter="url(#bl)"/></g>
<ellipse cx="187.70" cy="287.90" rx="4.20" ry="5.60" fill="url(#jet)" clip-path="url(#c30L)"/>
</g>
<line x1="190.20" y1="265.60" x2="190.20" y2="294.90" stroke="#666" stroke-width="0.7"/>
<line x1="181.00" y1="284.00" x2="211.00" y2="284.00" stroke="#666" stroke-width="0.7"/>
<text x="181.60" y="269.48" font-size="4.1" text-anchor="start" fill="#2a2a2a" stroke="#2a2a2a" stroke-width="0.05" >6.71</text>
<text x="210.60" y="269.48" font-size="4.1" text-anchor="end" fill="#2a2a2a" stroke="#2a2a2a" stroke-width="0.05" >0.235</text>
<text x="181.60" y="294.20" font-size="4.1" text-anchor="start" fill="#2a2a2a" stroke="#2a2a2a" stroke-width="0.05" >87.1</text>
<text x="210.60" y="294.20" font-size="4.1" text-anchor="end" fill="#2a2a2a" stroke="#2a2a2a" stroke-width="0.05" >5.96</text>
<text x="196.50" y="263.20" font-size="5.1" text-anchor="middle" fill="#2a2a2a" >Pool 4</text>
<rect x="221.00" y="265.60" width="30.00" height="29.30" fill="none" stroke="#c4c4c4" stroke-width="0.7"/>
<g clip-path="url(#c31)">
<ellipse cx="227.70" cy="285.60" rx="5.00" ry="10.00" fill="url(#scatter)"/>
<g><polygon points="226.30,279.60 229.00,279.60 229.40,283.70 226.10,283.70" fill="#2a48ff" opacity="0.8" filter="url(#bl)"/></g>
<g clip-path="url(#c31L)"><polygon points="224.80,284.50 230.60,284.20 230.60,294.90 224.80,294.90" fill="#1e36ff" opacity="0.9" filter="url(#bl)"/></g>
<ellipse cx="227.70" cy="287.90" rx="4.20" ry="5.60" fill="url(#jet)" clip-path="url(#c31L)"/>
</g>
<line x1="230.20" y1="265.60" x2="230.20" y2="294.90" stroke="#666" stroke-width="0.7"/>
<line x1="221.00" y1="284.00" x2="251.00" y2="284.00" stroke="#666" stroke-width="0.7"/>
<text x="221.60" y="269.48" font-size="4.1" text-anchor="start" fill="#2a2a2a" stroke="#2a2a2a" stroke-width="0.05" >6.78</text>
<text x="250.60" y="269.48" font-size="4.1" text-anchor="end" fill="#2a2a2a" stroke="#2a2a2a" stroke-width="0.05" >0.291</text>
<text x="221.60" y="294.20" font-size="4.1" text-anchor="start" fill="#2a2a2a" stroke="#2a2a2a" stroke-width="0.05" >91.4</text>
<text x="250.60" y="294.20" font-size="4.1" text-anchor="end" fill="#2a2a2a" stroke="#2a2a2a" stroke-width="0.05" >1.56</text>
<text x="237.00" y="263.20" font-size="5.1" text-anchor="middle" fill="#2a2a2a" >Pool 5</text>
<rect x="21.50" y="305.45" width="30.00" height="29.30" fill="none" stroke="#c4c4c4" stroke-width="0.7"/>
<g clip-path="url(#c32)">
<ellipse cx="28.20" cy="325.45" rx="5.00" ry="10.00" fill="url(#scatter)"/>
<g><polygon points="26.80,319.45 29.50,319.45 29.90,323.55 26.60,323.55" fill="#2a48ff" opacity="0.8" filter="url(#bl)"/></g>
<g clip-path="url(#c32L)"><polygon points="25.30,324.35 31.10,324.05 31.10,334.75 25.30,334.75" fill="#1e36ff" opacity="0.9" filter="url(#bl)"/></g>
<ellipse cx="28.20" cy="327.75" rx="4.20" ry="5.60" fill="url(#jet)" clip-path="url(#c32L)"/>
</g>
<line x1="30.70" y1="305.45" x2="30.70" y2="334.75" stroke="#666" stroke-width="0.7"/>
<line x1="21.50" y1="323.85" x2="51.50" y2="323.85" stroke="#666" stroke-width="0.7"/>
<text x="22.10" y="309.33" font-size="4.1" text-anchor="start" fill="#2a2a2a" stroke="#2a2a2a" stroke-width="0.05" >4.09</text>
<text x="51.10" y="309.33" font-size="4.1" text-anchor="end" fill="#2a2a2a" stroke="#2a2a2a" stroke-width="0.05" >0.253</text>
<text x="22.10" y="334.05" font-size="4.1" text-anchor="start" fill="#2a2a2a" stroke="#2a2a2a" stroke-width="0.05" >94.1</text>
<text x="51.10" y="334.05" font-size="4.1" text-anchor="end" fill="#2a2a2a" stroke="#2a2a2a" stroke-width="0.05" >1.61</text>
<text x="36.00" y="303.05" font-size="5.1" text-anchor="middle" fill="#2a2a2a" >Pool 6</text>
<rect x="60.40" y="305.45" width="30.00" height="29.30" fill="none" stroke="#c4c4c4" stroke-width="0.7"/>
<g clip-path="url(#c33)">
<ellipse cx="67.10" cy="325.45" rx="5.00" ry="10.00" fill="url(#scatter)"/>
<g><polygon points="65.70,319.45 68.40,319.45 68.80,323.55 65.50,323.55" fill="#2a48ff" opacity="0.8" filter="url(#bl)"/></g>
<g clip-path="url(#c33L)"><polygon points="64.20,324.35 70.00,324.05 70.00,334.75 64.20,334.75" fill="#1e36ff" opacity="0.9" filter="url(#bl)"/></g>
<ellipse cx="67.10" cy="327.75" rx="4.20" ry="5.60" fill="url(#jet)" clip-path="url(#c33L)"/>
</g>
<line x1="69.60" y1="305.45" x2="69.60" y2="334.75" stroke="#666" stroke-width="0.7"/>
<line x1="60.40" y1="323.85" x2="90.40" y2="323.85" stroke="#666" stroke-width="0.7"/>
<text x="61.00" y="309.33" font-size="4.1" text-anchor="start" fill="#2a2a2a" stroke="#2a2a2a" stroke-width="0.05" >5.65</text>
<text x="90.00" y="309.33" font-size="4.1" text-anchor="end" fill="#2a2a2a" stroke="#2a2a2a" stroke-width="0.05" >0.457</text>
<text x="61.00" y="334.05" font-size="4.1" text-anchor="start" fill="#2a2a2a" stroke="#2a2a2a" stroke-width="0.05" >92.4</text>
<text x="90.00" y="334.05" font-size="4.1" text-anchor="end" fill="#2a2a2a" stroke="#2a2a2a" stroke-width="0.05" >1.51</text>
<text x="75.80" y="303.05" font-size="5.1" text-anchor="middle" fill="#2a2a2a" >Pool 7</text>
<rect x="100.40" y="305.45" width="30.00" height="29.30" fill="none" stroke="#c4c4c4" stroke-width="0.7"/>
<g clip-path="url(#c34)">
<ellipse cx="107.10" cy="325.45" rx="5.00" ry="10.00" fill="url(#scatter)"/>
<g><polygon points="105.70,319.45 108.40,319.45 108.80,323.55 105.50,323.55" fill="#2a48ff" opacity="0.8" filter="url(#bl)"/></g>
<g clip-path="url(#c34L)"><polygon points="104.20,324.35 110.00,324.05 110.00,334.75 104.20,334.75" fill="#1e36ff" opacity="0.9" filter="url(#bl)"/></g>
<ellipse cx="107.10" cy="327.75" rx="4.20" ry="5.60" fill="url(#jet)" clip-path="url(#c34L)"/>
</g>
<line x1="109.60" y1="305.45" x2="109.60" y2="334.75" stroke="#666" stroke-width="0.7"/>
<line x1="100.40" y1="323.85" x2="130.40" y2="323.85" stroke="#666" stroke-width="0.7"/>
<text x="101.00" y="309.33" font-size="4.1" text-anchor="start" fill="#2a2a2a" stroke="#2a2a2a" stroke-width="0.05" >5.7</text>
<text x="130.00" y="309.33" font-size="4.1" text-anchor="end" fill="#2a2a2a" stroke="#2a2a2a" stroke-width="0.05" >0.457</text>
<text x="101.00" y="334.05" font-size="4.1" text-anchor="start" fill="#2a2a2a" stroke="#2a2a2a" stroke-width="0.05" >91.7</text>
<text x="130.00" y="334.05" font-size="4.1" text-anchor="end" fill="#2a2a2a" stroke="#2a2a2a" stroke-width="0.05" >2.1</text>
<text x="115.60" y="303.05" font-size="5.1" text-anchor="middle" fill="#2a2a2a" >Pool 8</text>
<rect x="140.60" y="305.45" width="30.00" height="29.30" fill="none" stroke="#c4c4c4" stroke-width="0.7"/>
<g clip-path="url(#c35)">
<ellipse cx="147.30" cy="325.45" rx="5.00" ry="10.00" fill="url(#scatter)"/>
<g><polygon points="145.90,319.45 148.60,319.45 149.00,323.55 145.70,323.55" fill="#2a48ff" opacity="0.8" filter="url(#bl)"/></g>
<g clip-path="url(#c35L)"><polygon points="144.40,324.35 150.20,324.05 150.20,334.75 144.40,334.75" fill="#1e36ff" opacity="0.9" filter="url(#bl)"/></g>
<ellipse cx="147.30" cy="327.75" rx="4.20" ry="5.60" fill="url(#jet)" clip-path="url(#c35L)"/>
</g>
<line x1="149.80" y1="305.45" x2="149.80" y2="334.75" stroke="#666" stroke-width="0.7"/>
<line x1="140.60" y1="323.85" x2="170.60" y2="323.85" stroke="#666" stroke-width="0.7"/>
<text x="141.20" y="309.33" font-size="4.1" text-anchor="start" fill="#2a2a2a" stroke="#2a2a2a" stroke-width="0.05" >6.69</text>
<text x="170.20" y="309.33" font-size="4.1" text-anchor="end" fill="#2a2a2a" stroke="#2a2a2a" stroke-width="0.05" >0.422</text>
<text x="141.20" y="334.05" font-size="4.1" text-anchor="start" fill="#2a2a2a" stroke="#2a2a2a" stroke-width="0.05" >90.2</text>
<text x="170.20" y="334.05" font-size="4.1" text-anchor="end" fill="#2a2a2a" stroke="#2a2a2a" stroke-width="0.05" >2.69</text>
<text x="156.30" y="303.05" font-size="5.1" text-anchor="middle" fill="#2a2a2a" >Pool 9</text>
<rect x="181.00" y="305.45" width="30.00" height="29.30" fill="none" stroke="#c4c4c4" stroke-width="0.7"/>
<g clip-path="url(#c36)">
<ellipse cx="187.70" cy="325.45" rx="5.00" ry="10.00" fill="url(#scatter)"/>
<g><polygon points="186.30,319.45 189.00,319.45 189.40,323.55 186.10,323.55" fill="#2a48ff" opacity="0.8" filter="url(#bl)"/></g>
<g clip-path="url(#c36L)"><polygon points="184.80,324.35 190.60,324.05 190.60,334.75 184.80,334.75" fill="#1e36ff" opacity="0.9" filter="url(#bl)"/></g>
<ellipse cx="187.70" cy="327.75" rx="4.20" ry="5.60" fill="url(#jet)" clip-path="url(#c36L)"/>
</g>
<line x1="190.20" y1="305.45" x2="190.20" y2="334.75" stroke="#666" stroke-width="0.7"/>
<line x1="181.00" y1="323.85" x2="211.00" y2="323.85" stroke="#666" stroke-width="0.7"/>
<text x="181.60" y="309.33" font-size="4.1" text-anchor="start" fill="#2a2a2a" stroke="#2a2a2a" stroke-width="0.05" >5.01</text>
<text x="210.60" y="309.33" font-size="4.1" text-anchor="end" fill="#2a2a2a" stroke="#2a2a2a" stroke-width="0.05" >0.498</text>
<text x="181.60" y="334.05" font-size="4.1" text-anchor="start" fill="#2a2a2a" stroke="#2a2a2a" stroke-width="0.05" >93.4</text>
<text x="210.60" y="334.05" font-size="4.1" text-anchor="end" fill="#2a2a2a" stroke="#2a2a2a" stroke-width="0.05" >1.09</text>
<text x="196.50" y="303.05" font-size="5.1" text-anchor="middle" fill="#2a2a2a" >Pool 10</text>
<rect x="221.00" y="305.45" width="30.00" height="29.30" fill="none" stroke="#c4c4c4" stroke-width="0.7"/>
<g clip-path="url(#c37)">
<ellipse cx="227.70" cy="325.45" rx="5.00" ry="10.00" fill="url(#scatter)"/>
<g><polygon points="226.30,319.45 229.00,319.45 229.40,323.55 226.10,323.55" fill="#2a48ff" opacity="0.8" filter="url(#bl)"/></g>
<g clip-path="url(#c37L)"><polygon points="224.80,324.35 230.60,324.05 230.60,334.75 224.80,334.75" fill="#1e36ff" opacity="0.9" filter="url(#bl)"/></g>
<ellipse cx="227.70" cy="327.75" rx="4.20" ry="5.60" fill="url(#jet)" clip-path="url(#c37L)"/>
</g>
<line x1="230.20" y1="305.45" x2="230.20" y2="334.75" stroke="#666" stroke-width="0.7"/>
<line x1="221.00" y1="323.85" x2="251.00" y2="323.85" stroke="#666" stroke-width="0.7"/>
<text x="221.60" y="309.33" font-size="4.1" text-anchor="start" fill="#2a2a2a" stroke="#2a2a2a" stroke-width="0.05" >5.19</text>
<text x="250.60" y="309.33" font-size="4.1" text-anchor="end" fill="#2a2a2a" stroke="#2a2a2a" stroke-width="0.05" >0.473</text>
<text x="221.60" y="334.05" font-size="4.1" text-anchor="start" fill="#2a2a2a" stroke="#2a2a2a" stroke-width="0.05" >92.5</text>
<text x="250.60" y="334.05" font-size="4.1" text-anchor="end" fill="#2a2a2a" stroke="#2a2a2a" stroke-width="0.05" >1.87</text>
<text x="237.00" y="303.05" font-size="5.1" text-anchor="middle" fill="#2a2a2a" >Pool 11</text>
<rect x="21.50" y="345.30" width="30.00" height="29.30" fill="none" stroke="#c4c4c4" stroke-width="0.7"/>
<g clip-path="url(#c38)">
<ellipse cx="28.20" cy="365.30" rx="5.00" ry="10.00" fill="url(#scatter)"/>
<g><polygon points="26.80,359.30 29.50,359.30 29.90,363.40 26.60,363.40" fill="#2a48ff" opacity="0.8" filter="url(#bl)"/></g>
<g clip-path="url(#c38L)"><polygon points="25.30,364.20 31.10,363.90 31.10,374.60 25.30,374.60" fill="#1e36ff" opacity="0.9" filter="url(#bl)"/></g>
<ellipse cx="28.20" cy="367.60" rx="4.20" ry="5.60" fill="url(#jet)" clip-path="url(#c38L)"/>
</g>
<line x1="30.70" y1="345.30" x2="30.70" y2="374.60" stroke="#666" stroke-width="0.7"/>
<line x1="21.50" y1="363.70" x2="51.50" y2="363.70" stroke="#666" stroke-width="0.7"/>
<text x="22.10" y="349.18" font-size="4.1" text-anchor="start" fill="#2a2a2a" stroke="#2a2a2a" stroke-width="0.05" >5.79</text>
<text x="51.10" y="349.18" font-size="4.1" text-anchor="end" fill="#2a2a2a" stroke="#2a2a2a" stroke-width="0.05" >0.421</text>
<text x="22.10" y="373.90" font-size="4.1" text-anchor="start" fill="#2a2a2a" stroke="#2a2a2a" stroke-width="0.05" >91.7</text>
<text x="51.10" y="373.90" font-size="4.1" text-anchor="end" fill="#2a2a2a" stroke="#2a2a2a" stroke-width="0.05" >2.05</text>
<text x="36.00" y="342.90" font-size="5.1" text-anchor="middle" fill="#2a2a2a" >Pool 12</text>
<rect x="60.40" y="345.30" width="30.00" height="29.30" fill="none" stroke="#c4c4c4" stroke-width="0.7"/>
<g clip-path="url(#c39)">
<ellipse cx="67.10" cy="365.30" rx="5.00" ry="10.00" fill="url(#scatter)"/>
<g><polygon points="65.70,359.30 68.40,359.30 68.80,363.40 65.50,363.40" fill="#2a48ff" opacity="0.8" filter="url(#bl)"/></g>
<g clip-path="url(#c39L)"><polygon points="64.20,364.20 70.00,363.90 70.00,374.60 64.20,374.60" fill="#1e36ff" opacity="0.9" filter="url(#bl)"/></g>
<ellipse cx="67.10" cy="367.60" rx="4.20" ry="5.60" fill="url(#jet)" clip-path="url(#c39L)"/>
</g>
<line x1="69.60" y1="345.30" x2="69.60" y2="374.60" stroke="#666" stroke-width="0.7"/>
<line x1="60.40" y1="363.70" x2="90.40" y2="363.70" stroke="#666" stroke-width="0.7"/>
<text x="61.00" y="349.18" font-size="4.1" text-anchor="start" fill="#2a2a2a" stroke="#2a2a2a" stroke-width="0.05" >6.12</text>
<text x="90.00" y="349.18" font-size="4.1" text-anchor="end" fill="#2a2a2a" stroke="#2a2a2a" stroke-width="0.05" >0.352</text>
<text x="61.00" y="373.90" font-size="4.1" text-anchor="start" fill="#2a2a2a" stroke="#2a2a2a" stroke-width="0.05" >92.0</text>
<text x="90.00" y="373.90" font-size="4.1" text-anchor="end" fill="#2a2a2a" stroke="#2a2a2a" stroke-width="0.05" >1.56</text>
<text x="75.80" y="342.90" font-size="5.1" text-anchor="middle" fill="#2a2a2a" >Pool 13</text>
<rect x="100.40" y="345.30" width="30.00" height="29.30" fill="none" stroke="#c4c4c4" stroke-width="0.7"/>
<g clip-path="url(#c40)">
<ellipse cx="107.10" cy="365.30" rx="5.00" ry="10.00" fill="url(#scatter)"/>
<g><polygon points="105.70,359.30 108.40,359.30 108.80,363.40 105.50,363.40" fill="#2a48ff" opacity="0.8" filter="url(#bl)"/></g>
<g clip-path="url(#c40L)"><polygon points="104.20,364.20 110.00,363.90 110.00,374.60 104.20,374.60" fill="#1e36ff" opacity="0.9" filter="url(#bl)"/></g>
<ellipse cx="107.10" cy="367.60" rx="4.20" ry="5.60" fill="url(#jet)" clip-path="url(#c40L)"/>
</g>
<line x1="109.60" y1="345.30" x2="109.60" y2="374.60" stroke="#666" stroke-width="0.7"/>
<line x1="100.40" y1="363.70" x2="130.40" y2="363.70" stroke="#666" stroke-width="0.7"/>
<text x="101.00" y="349.18" font-size="4.1" text-anchor="start" fill="#2a2a2a" stroke="#2a2a2a" stroke-width="0.05" >5.93</text>
<text x="130.00" y="349.18" font-size="4.1" text-anchor="end" fill="#2a2a2a" stroke="#2a2a2a" stroke-width="0.05" >0.361</text>
<text x="101.00" y="373.90" font-size="4.1" text-anchor="start" fill="#2a2a2a" stroke="#2a2a2a" stroke-width="0.05" >92.2</text>
<text x="130.00" y="373.90" font-size="4.1" text-anchor="end" fill="#2a2a2a" stroke="#2a2a2a" stroke-width="0.05" >1.49</text>
<text x="115.60" y="342.90" font-size="5.1" text-anchor="middle" fill="#2a2a2a" >Pool 14</text>
<rect x="140.60" y="345.30" width="30.00" height="29.30" fill="none" stroke="#c4c4c4" stroke-width="0.7"/>
<g clip-path="url(#c41)">
<ellipse cx="147.30" cy="365.30" rx="5.00" ry="10.00" fill="url(#scatter)"/>
<g><polygon points="145.90,359.30 148.60,359.30 149.00,363.40 145.70,363.40" fill="#2a48ff" opacity="0.8" filter="url(#bl)"/></g>
<g clip-path="url(#c41L)"><polygon points="144.40,364.20 150.20,363.90 150.20,374.60 144.40,374.60" fill="#1e36ff" opacity="0.9" filter="url(#bl)"/></g>
<ellipse cx="147.30" cy="367.60" rx="4.20" ry="5.60" fill="url(#jet)" clip-path="url(#c41L)"/>
</g>
<line x1="149.80" y1="345.30" x2="149.80" y2="374.60" stroke="#666" stroke-width="0.7"/>
<line x1="140.60" y1="363.70" x2="170.60" y2="363.70" stroke="#666" stroke-width="0.7"/>
<text x="141.20" y="349.18" font-size="4.1" text-anchor="start" fill="#2a2a2a" stroke="#2a2a2a" stroke-width="0.05" >5.63</text>
<text x="170.20" y="349.18" font-size="4.1" text-anchor="end" fill="#2a2a2a" stroke="#2a2a2a" stroke-width="0.05" >0.473</text>
<text x="141.20" y="373.90" font-size="4.1" text-anchor="start" fill="#2a2a2a" stroke="#2a2a2a" stroke-width="0.05" >92.6</text>
<text x="170.20" y="373.90" font-size="4.1" text-anchor="end" fill="#2a2a2a" stroke="#2a2a2a" stroke-width="0.05" >1.32</text>
<text x="156.30" y="342.90" font-size="5.1" text-anchor="middle" fill="#2a2a2a" >Pool 15</text>
<rect x="181.00" y="345.30" width="30.00" height="29.30" fill="none" stroke="#c4c4c4" stroke-width="0.7"/>
<g clip-path="url(#c42)">
<ellipse cx="187.70" cy="365.30" rx="5.00" ry="10.00" fill="url(#scatter)"/>
<g><polygon points="186.30,359.30 189.00,359.30 189.40,363.40 186.10,363.40" fill="#2a48ff" opacity="0.8" filter="url(#bl)"/></g>
<g clip-path="url(#c42L)"><polygon points="184.80,364.20 190.60,363.90 190.60,374.60 184.80,374.60" fill="#1e36ff" opacity="0.9" filter="url(#bl)"/></g>
<ellipse cx="187.70" cy="367.60" rx="4.20" ry="5.60" fill="url(#jet)" clip-path="url(#c42L)"/>
</g>
<line x1="190.20" y1="345.30" x2="190.20" y2="374.60" stroke="#666" stroke-width="0.7"/>
<line x1="181.00" y1="363.70" x2="211.00" y2="363.70" stroke="#666" stroke-width="0.7"/>
<text x="181.60" y="349.18" font-size="4.1" text-anchor="start" fill="#2a2a2a" stroke="#2a2a2a" stroke-width="0.05" >5.25</text>
<text x="210.60" y="349.18" font-size="4.1" text-anchor="end" fill="#2a2a2a" stroke="#2a2a2a" stroke-width="0.05" >0.543</text>
<text x="181.60" y="373.90" font-size="4.1" text-anchor="start" fill="#2a2a2a" stroke="#2a2a2a" stroke-width="0.05" >92.7</text>
<text x="210.60" y="373.90" font-size="4.1" text-anchor="end" fill="#2a2a2a" stroke="#2a2a2a" stroke-width="0.05" >1.48</text>
<text x="196.50" y="342.90" font-size="5.1" text-anchor="middle" fill="#2a2a2a" >Pool 16</text>
<rect x="221.00" y="345.30" width="30.00" height="29.30" fill="none" stroke="#c4c4c4" stroke-width="0.7"/>
<g clip-path="url(#c43)">
<ellipse cx="227.70" cy="365.30" rx="5.00" ry="10.00" fill="url(#scatter)"/>
<g><polygon points="226.30,359.30 229.00,359.30 229.40,363.40 226.10,363.40" fill="#2a48ff" opacity="0.8" filter="url(#bl)"/></g>
<g clip-path="url(#c43L)"><polygon points="224.80,364.20 230.60,363.90 230.60,374.60 224.80,374.60" fill="#1e36ff" opacity="0.9" filter="url(#bl)"/></g>
<ellipse cx="227.70" cy="367.60" rx="4.20" ry="5.60" fill="url(#jet)" clip-path="url(#c43L)"/>
</g>
<line x1="230.20" y1="345.30" x2="230.20" y2="374.60" stroke="#666" stroke-width="0.7"/>
<line x1="221.00" y1="363.70" x2="251.00" y2="363.70" stroke="#666" stroke-width="0.7"/>
<text x="221.60" y="349.18" font-size="4.1" text-anchor="start" fill="#2a2a2a" stroke="#2a2a2a" stroke-width="0.05" >5.27</text>
<text x="250.60" y="349.18" font-size="4.1" text-anchor="end" fill="#2a2a2a" stroke="#2a2a2a" stroke-width="0.05" >0.365</text>
<text x="221.60" y="373.90" font-size="4.1" text-anchor="start" fill="#2a2a2a" stroke="#2a2a2a" stroke-width="0.05" >92.9</text>
<text x="250.60" y="373.90" font-size="4.1" text-anchor="end" fill="#2a2a2a" stroke="#2a2a2a" stroke-width="0.05" >1.47</text>
<text x="237.00" y="342.90" font-size="5.1" text-anchor="middle" fill="#2a2a2a" >Pool 17</text>
<rect x="21.50" y="385.15" width="30.00" height="29.30" fill="none" stroke="#c4c4c4" stroke-width="0.7"/>
<g clip-path="url(#c44)">
<ellipse cx="28.20" cy="405.15" rx="5.00" ry="10.00" fill="url(#scatter)"/>
<g><polygon points="26.80,399.15 29.50,399.15 29.90,403.25 26.60,403.25" fill="#2a48ff" opacity="0.8" filter="url(#bl)"/></g>
<g clip-path="url(#c44L)"><polygon points="25.30,404.05 31.10,403.75 31.10,414.45 25.30,414.45" fill="#1e36ff" opacity="0.9" filter="url(#bl)"/></g>
<ellipse cx="28.20" cy="407.45" rx="4.20" ry="5.60" fill="url(#jet)" clip-path="url(#c44L)"/>
</g>
<line x1="30.70" y1="385.15" x2="30.70" y2="414.45" stroke="#666" stroke-width="0.7"/>
<line x1="21.50" y1="403.55" x2="51.50" y2="403.55" stroke="#666" stroke-width="0.7"/>
<text x="22.10" y="389.03" font-size="4.1" text-anchor="start" fill="#2a2a2a" stroke="#2a2a2a" stroke-width="0.05" >5.42</text>
<text x="51.10" y="389.03" font-size="4.1" text-anchor="end" fill="#2a2a2a" stroke="#2a2a2a" stroke-width="0.05" >0.454</text>
<text x="22.10" y="413.75" font-size="4.1" text-anchor="start" fill="#2a2a2a" stroke="#2a2a2a" stroke-width="0.05" >92.3</text>
<text x="51.10" y="413.75" font-size="4.1" text-anchor="end" fill="#2a2a2a" stroke="#2a2a2a" stroke-width="0.05" >1.87</text>
<text x="36.00" y="382.75" font-size="5.1" text-anchor="middle" fill="#2a2a2a" >Pool 18</text>
<rect x="60.40" y="385.15" width="30.00" height="29.30" fill="none" stroke="#c4c4c4" stroke-width="0.7"/>
<g clip-path="url(#c45)">
<ellipse cx="67.10" cy="405.15" rx="5.00" ry="10.00" fill="url(#scatter)"/>
<g><polygon points="65.70,399.15 68.40,399.15 68.80,403.25 65.50,403.25" fill="#2a48ff" opacity="0.8" filter="url(#bl)"/></g>
<g clip-path="url(#c45L)"><polygon points="64.20,404.05 70.00,403.75 70.00,414.45 64.20,414.45" fill="#1e36ff" opacity="0.9" filter="url(#bl)"/></g>
<ellipse cx="67.10" cy="407.45" rx="4.20" ry="5.60" fill="url(#jet)" clip-path="url(#c45L)"/>
</g>
<line x1="69.60" y1="385.15" x2="69.60" y2="414.45" stroke="#666" stroke-width="0.7"/>
<line x1="60.40" y1="403.55" x2="90.40" y2="403.55" stroke="#666" stroke-width="0.7"/>
<text x="61.00" y="389.03" font-size="4.1" text-anchor="start" fill="#2a2a2a" stroke="#2a2a2a" stroke-width="0.05" >4.76</text>
<text x="90.00" y="389.03" font-size="4.1" text-anchor="end" fill="#2a2a2a" stroke="#2a2a2a" stroke-width="0.05" >0.37</text>
<text x="61.00" y="413.75" font-size="4.1" text-anchor="start" fill="#2a2a2a" stroke="#2a2a2a" stroke-width="0.05" >93.0</text>
<text x="90.00" y="413.75" font-size="4.1" text-anchor="end" fill="#2a2a2a" stroke="#2a2a2a" stroke-width="0.05" >1.88</text>
<text x="75.80" y="382.75" font-size="5.1" text-anchor="middle" fill="#2a2a2a" >Pool 19</text>
<rect x="100.40" y="385.15" width="30.00" height="29.30" fill="none" stroke="#c4c4c4" stroke-width="0.7"/>
<g clip-path="url(#c46)">
<ellipse cx="107.10" cy="405.15" rx="5.00" ry="10.00" fill="url(#scatter)"/>
<g><polygon points="105.70,399.15 108.40,399.15 108.80,403.25 105.50,403.25" fill="#2a48ff" opacity="0.8" filter="url(#bl)"/></g>
<g clip-path="url(#c46L)"><polygon points="104.20,404.05 110.00,403.75 110.00,414.45 104.20,414.45" fill="#1e36ff" opacity="0.9" filter="url(#bl)"/></g>
<ellipse cx="107.10" cy="407.45" rx="4.20" ry="5.60" fill="url(#jet)" clip-path="url(#c46L)"/>
</g>
<line x1="109.60" y1="385.15" x2="109.60" y2="414.45" stroke="#666" stroke-width="0.7"/>
<line x1="100.40" y1="403.55" x2="130.40" y2="403.55" stroke="#666" stroke-width="0.7"/>
<text x="101.00" y="389.03" font-size="4.1" text-anchor="start" fill="#2a2a2a" stroke="#2a2a2a" stroke-width="0.05" >5.63</text>
<text x="130.00" y="389.03" font-size="4.1" text-anchor="end" fill="#2a2a2a" stroke="#2a2a2a" stroke-width="0.05" >0.206</text>
<text x="101.00" y="413.75" font-size="4.1" text-anchor="start" fill="#2a2a2a" stroke="#2a2a2a" stroke-width="0.05" >92.8</text>
<text x="130.00" y="413.75" font-size="4.1" text-anchor="end" fill="#2a2a2a" stroke="#2a2a2a" stroke-width="0.05" >1.41</text>
<text x="115.60" y="382.75" font-size="5.1" text-anchor="middle" fill="#2a2a2a" >Pool 20</text>
<rect x="140.60" y="385.15" width="30.00" height="29.30" fill="none" stroke="#c4c4c4" stroke-width="0.7"/>
<g clip-path="url(#c47)">
<ellipse cx="147.30" cy="405.15" rx="5.00" ry="10.00" fill="url(#scatter)"/>
<g><polygon points="145.90,399.15 148.60,399.15 149.00,403.25 145.70,403.25" fill="#2a48ff" opacity="0.8" filter="url(#bl)"/></g>
<g clip-path="url(#c47L)"><polygon points="144.40,404.05 150.20,403.75 150.20,414.45 144.40,414.45" fill="#1e36ff" opacity="0.9" filter="url(#bl)"/></g>
<ellipse cx="147.30" cy="407.45" rx="4.20" ry="5.60" fill="url(#jet)" clip-path="url(#c47L)"/>
</g>
<line x1="149.80" y1="385.15" x2="149.80" y2="414.45" stroke="#666" stroke-width="0.7"/>
<line x1="140.60" y1="403.55" x2="170.60" y2="403.55" stroke="#666" stroke-width="0.7"/>
<text x="141.20" y="389.03" font-size="4.1" text-anchor="start" fill="#2a2a2a" stroke="#2a2a2a" stroke-width="0.05" >5.02</text>
<text x="170.20" y="389.03" font-size="4.1" text-anchor="end" fill="#2a2a2a" stroke="#2a2a2a" stroke-width="0.05" >0.294</text>
<text x="141.20" y="413.75" font-size="4.1" text-anchor="start" fill="#2a2a2a" stroke="#2a2a2a" stroke-width="0.05" >93.0</text>
<text x="170.20" y="413.75" font-size="4.1" text-anchor="end" fill="#2a2a2a" stroke="#2a2a2a" stroke-width="0.05" >1.72</text>
<text x="156.30" y="382.75" font-size="5.1" text-anchor="middle" fill="#2a2a2a" >Pool 21</text>
<rect x="181.00" y="385.15" width="30.00" height="29.30" fill="none" stroke="#c4c4c4" stroke-width="0.7"/>
<g clip-path="url(#c48)">
<ellipse cx="187.70" cy="405.15" rx="5.00" ry="10.00" fill="url(#scatter)"/>
<g><polygon points="186.30,399.15 189.00,399.15 189.40,403.25 186.10,403.25" fill="#2a48ff" opacity="0.8" filter="url(#bl)"/></g>
<g clip-path="url(#c48L)"><polygon points="184.80,404.05 190.60,403.75 190.60,414.45 184.80,414.45" fill="#1e36ff" opacity="0.9" filter="url(#bl)"/></g>
<ellipse cx="187.70" cy="407.45" rx="4.20" ry="5.60" fill="url(#jet)" clip-path="url(#c48L)"/>
</g>
<line x1="190.20" y1="385.15" x2="190.20" y2="414.45" stroke="#666" stroke-width="0.7"/>
<line x1="181.00" y1="403.55" x2="211.00" y2="403.55" stroke="#666" stroke-width="0.7"/>
<text x="181.60" y="389.03" font-size="4.1" text-anchor="start" fill="#2a2a2a" stroke="#2a2a2a" stroke-width="0.05" >5.93</text>
<text x="210.60" y="389.03" font-size="4.1" text-anchor="end" fill="#2a2a2a" stroke="#2a2a2a" stroke-width="0.05" >0.33</text>
<text x="181.60" y="413.75" font-size="4.1" text-anchor="start" fill="#2a2a2a" stroke="#2a2a2a" stroke-width="0.05" >92.1</text>
<text x="210.60" y="413.75" font-size="4.1" text-anchor="end" fill="#2a2a2a" stroke="#2a2a2a" stroke-width="0.05" >1.63</text>
<text x="196.50" y="382.75" font-size="5.1" text-anchor="middle" fill="#2a2a2a" >Pool 22</text>
<rect x="221.00" y="385.15" width="30.00" height="29.30" fill="none" stroke="#c4c4c4" stroke-width="0.7"/>
<g clip-path="url(#c49)">
<ellipse cx="236.20" cy="409.05" rx="9.00" ry="7.00" fill="url(#scatter)"/>
<g><polygon points="230.50,404.35 238.20,404.05 241.70,405.55 241.20,414.15 230.50,414.15" fill="#3a5cff" opacity="0.75" filter="url(#bl2)"/></g>
<g><polygon points="232.20,406.05 238.20,406.05 238.70,411.95 232.20,411.95" fill="#20b8e8" opacity="0.55" filter="url(#bl2)"/></g>
<ellipse cx="227.70" cy="405.15" rx="5.00" ry="10.00" fill="url(#scatter)"/>
<g><polygon points="226.30,399.15 229.00,399.15 229.40,403.25 226.10,403.25" fill="#2a48ff" opacity="0.8" filter="url(#bl)"/></g>
<g clip-path="url(#c49L)"><polygon points="224.80,404.05 230.60,403.75 230.60,414.45 224.80,414.45" fill="#1e36ff" opacity="0.9" filter="url(#bl)"/></g>
<ellipse cx="227.70" cy="407.45" rx="4.20" ry="5.60" fill="url(#jet)" clip-path="url(#c49L)"/>
</g>
<line x1="230.20" y1="385.15" x2="230.20" y2="414.45" stroke="#666" stroke-width="0.7"/>
<line x1="221.00" y1="403.55" x2="251.00" y2="403.55" stroke="#666" stroke-width="0.7"/>
<text x="221.60" y="389.03" font-size="4.1" text-anchor="start" fill="#2a2a2a" stroke="#2a2a2a" stroke-width="0.05" >12.3</text>
<text x="250.60" y="389.03" font-size="4.1" text-anchor="end" fill="#2a2a2a" stroke="#2a2a2a" stroke-width="0.05" >0.899</text>
<text x="221.60" y="413.75" font-size="4.1" text-anchor="start" fill="#2a2a2a" stroke="#2a2a2a" stroke-width="0.05" >47.4</text>
<ellipse cx="245.10" cy="408.25" rx="5.00" ry="4.30" fill="none" stroke="#cc2445" stroke-width="1.05"/>
<text x="245.10" y="409.73" font-size="4.1" text-anchor="middle" fill="#2a2a2a" stroke="#2a2a2a" stroke-width="0.05" >60%</text>
<text x="237.00" y="382.75" font-size="5.1" text-anchor="middle" fill="#2a2a2a" >Pool 23</text>
<rect x="21.50" y="425.00" width="30.00" height="29.30" fill="none" stroke="#c4c4c4" stroke-width="0.7"/>
<g clip-path="url(#c50)">
<ellipse cx="28.20" cy="445.00" rx="5.00" ry="10.00" fill="url(#scatter)"/>
<g><polygon points="26.80,439.00 29.50,439.00 29.90,443.10 26.60,443.10" fill="#2a48ff" opacity="0.8" filter="url(#bl)"/></g>
<g clip-path="url(#c50L)"><polygon points="25.30,443.90 31.10,443.60 31.10,454.30 25.30,454.30" fill="#1e36ff" opacity="0.9" filter="url(#bl)"/></g>
<ellipse cx="28.20" cy="447.30" rx="4.20" ry="5.60" fill="url(#jet)" clip-path="url(#c50L)"/>
</g>
<line x1="30.70" y1="425.00" x2="30.70" y2="454.30" stroke="#666" stroke-width="0.7"/>
<line x1="21.50" y1="443.40" x2="51.50" y2="443.40" stroke="#666" stroke-width="0.7"/>
<text x="22.10" y="428.88" font-size="4.1" text-anchor="start" fill="#2a2a2a" stroke="#2a2a2a" stroke-width="0.05" >6.14</text>
<text x="51.10" y="428.88" font-size="4.1" text-anchor="end" fill="#2a2a2a" stroke="#2a2a2a" stroke-width="0.05" >0.252</text>
<text x="22.10" y="453.60" font-size="4.1" text-anchor="start" fill="#2a2a2a" stroke="#2a2a2a" stroke-width="0.05" >90.7</text>
<text x="51.10" y="453.60" font-size="4.1" text-anchor="end" fill="#2a2a2a" stroke="#2a2a2a" stroke-width="0.05" >2.9</text>
<text x="36.00" y="422.60" font-size="5.1" text-anchor="middle" fill="#2a2a2a" >Pool 24</text>
<rect x="60.40" y="425.00" width="30.00" height="29.30" fill="none" stroke="#c4c4c4" stroke-width="0.7"/>
<g clip-path="url(#c51)">
<ellipse cx="74.60" cy="448.90" rx="9.00" ry="7.00" fill="url(#scatter)"/>
<g><polygon points="69.90,444.20 75.60,444.20 79.10,446.40 78.60,453.30 69.90,453.80" fill="#4a64ff" opacity="0.6" filter="url(#bl2)"/></g>
<g><polygon points="70.60,445.40 74.60,445.90 74.60,451.30 70.60,452.30" fill="#2a8cff" opacity="0.45" filter="url(#bl2)"/></g>
<g><polygon points="65.60,439.40 68.60,439.40 69.10,443.40 65.60,443.40" fill="#20a0f0" opacity="0.6" filter="url(#bl)"/></g>
<ellipse cx="67.10" cy="445.00" rx="5.00" ry="10.00" fill="url(#scatter)"/>
<g><polygon points="65.70,439.00 68.40,439.00 68.80,443.10 65.50,443.10" fill="#2a48ff" opacity="0.8" filter="url(#bl)"/></g>
<g clip-path="url(#c51L)"><polygon points="64.20,443.90 70.00,443.60 70.00,454.30 64.20,454.30" fill="#1e36ff" opacity="0.9" filter="url(#bl)"/></g>
<ellipse cx="67.10" cy="447.30" rx="4.20" ry="5.60" fill="url(#jet)" clip-path="url(#c51L)"/>
</g>
<line x1="69.60" y1="425.00" x2="69.60" y2="454.30" stroke="#666" stroke-width="0.7"/>
<line x1="60.40" y1="443.40" x2="90.40" y2="443.40" stroke="#666" stroke-width="0.7"/>
<text x="61.00" y="428.88" font-size="4.1" text-anchor="start" fill="#2a2a2a" stroke="#2a2a2a" stroke-width="0.05" >9.03</text>
<text x="90.00" y="428.88" font-size="4.1" text-anchor="end" fill="#2a2a2a" stroke="#2a2a2a" stroke-width="0.05" >0.373</text>
<text x="61.00" y="453.60" font-size="4.1" text-anchor="start" fill="#2a2a2a" stroke="#2a2a2a" stroke-width="0.05" >65.6</text>
<text x="85.00" y="451.40" font-size="4.2" text-anchor="middle" fill="#2a2a2a" stroke="#2a2a2a" stroke-width="0.05" >25%</text>
<text x="75.80" y="422.60" font-size="5.1" text-anchor="middle" fill="#2a2a2a" >All pools</text>
<text x="6.60" y="14.60" font-size="11.2" text-anchor="start" fill="#000" stroke="#000" stroke-width="0.22" font-weight="bold">A</text>
<text x="6.60" y="255.90" font-size="11.2" text-anchor="start" fill="#000" stroke="#000" stroke-width="0.22" font-weight="bold">B</text>
<line x1="15.4" y1="227.9" x2="15.4" y2="209.8" stroke="#000" stroke-width="1.2"/>
<polygon points="12.4,210.60000000000002 18.4,210.60000000000002 15.4,205.8" fill="#000"/>
<line x1="14.8" y1="227.9" x2="40.8" y2="227.9" stroke="#000" stroke-width="1.2"/>
<polygon points="40.0,225.1 40.0,230.70000000000002 44.8,227.9" fill="#000"/>
<text x="0" y="0" font-size="6.9" text-anchor="middle" fill="#111" stroke="#111" stroke-width="0.12" transform="translate(12.30,219.60) rotate(-90) scale(0.88,1)">CD8</text>
<text x="15.00" y="235.20" font-size="6" text-anchor="start" fill="#111" stroke="#111" stroke-width="0.1" >Interferon γ</text>
<line x1="15.4" y1="460.6" x2="15.4" y2="442.8" stroke="#000" stroke-width="1.2"/>
<polygon points="12.4,443.6 18.4,443.6 15.4,438.8" fill="#000"/>
<line x1="14.8" y1="460.6" x2="41.6" y2="460.6" stroke="#000" stroke-width="1.2"/>
<polygon points="40.800000000000004,457.8 40.800000000000004,463.40000000000003 45.6,460.6" fill="#000"/>
<text x="0" y="0" font-size="6.9" text-anchor="middle" fill="#111" stroke="#111" stroke-width="0.12" transform="translate(12.20,452.60) rotate(-90) scale(0.88,1)">CD8</text>
<text x="16.80" y="468.40" font-size="6" text-anchor="start" fill="#111" stroke="#111" stroke-width="0.1" >Interferon γ</text>
<rect x="298.04" y="118.50" width="6.30" height="0.00" fill="#c3122f"/>
<rect x="311.42" y="118.50" width="6.30" height="7.31" fill="#c3122f"/>
<rect x="324.80" y="110.77" width="6.30" height="7.73" fill="#c3122f"/>
<rect x="338.18" y="32.85" width="6.30" height="85.65" fill="#c3122f"/>
<rect x="351.57" y="110.56" width="6.30" height="7.94" fill="#c3122f"/>
<rect x="364.95" y="113.49" width="6.30" height="5.01" fill="#c3122f"/>
<rect x="378.33" y="112.86" width="6.30" height="5.64" fill="#c3122f"/>
<rect x="391.71" y="111.19" width="6.30" height="7.31" fill="#c3122f"/>
<rect x="405.09" y="115.99" width="6.30" height="2.51" fill="#c3122f"/>
<rect x="418.47" y="114.11" width="6.30" height="4.39" fill="#c3122f"/>
<rect x="431.85" y="108.06" width="6.30" height="10.45" fill="#c3122f"/>
<rect x="445.23" y="105.13" width="6.30" height="13.37" fill="#c3122f"/>
<rect x="458.62" y="93.01" width="6.30" height="25.49" fill="#c3122f"/>
<rect x="472.00" y="113.28" width="6.30" height="5.22" fill="#c3122f"/>
<rect x="485.38" y="103.46" width="6.30" height="15.04" fill="#c3122f"/>
<rect x="498.76" y="116.41" width="6.30" height="2.09" fill="#c3122f"/>
<line x1="294.50" y1="19.90" x2="294.50" y2="142.94" stroke="#000" stroke-width="1"/>
<line x1="291.50" y1="24.50" x2="294.50" y2="24.50" stroke="#000" stroke-width="0.8"/>
<text x="288.30" y="27.00" font-size="7" text-anchor="end" fill="#111" stroke="#111" stroke-width="0.22" >45</text>
<line x1="291.50" y1="34.94" x2="294.50" y2="34.94" stroke="#000" stroke-width="0.8"/>
<text x="288.30" y="37.44" font-size="7" text-anchor="end" fill="#111" stroke="#111" stroke-width="0.22" >40</text>
<line x1="291.50" y1="45.39" x2="294.50" y2="45.39" stroke="#000" stroke-width="0.8"/>
<text x="288.30" y="47.89" font-size="7" text-anchor="end" fill="#111" stroke="#111" stroke-width="0.22" >35</text>
<line x1="291.50" y1="55.83" x2="294.50" y2="55.83" stroke="#000" stroke-width="0.8"/>
<text x="288.30" y="58.33" font-size="7" text-anchor="end" fill="#111" stroke="#111" stroke-width="0.22" >30</text>
<line x1="291.50" y1="66.28" x2="294.50" y2="66.28" stroke="#000" stroke-width="0.8"/>
<text x="288.30" y="68.78" font-size="7" text-anchor="end" fill="#111" stroke="#111" stroke-width="0.22" >25</text>
<line x1="291.50" y1="76.72" x2="294.50" y2="76.72" stroke="#000" stroke-width="0.8"/>
<text x="288.30" y="79.22" font-size="7" text-anchor="end" fill="#111" stroke="#111" stroke-width="0.22" >20</text>
<line x1="291.50" y1="87.16" x2="294.50" y2="87.16" stroke="#000" stroke-width="0.8"/>
<text x="288.30" y="89.66" font-size="7" text-anchor="end" fill="#111" stroke="#111" stroke-width="0.22" >15</text>
<line x1="291.50" y1="97.61" x2="294.50" y2="97.61" stroke="#000" stroke-width="0.8"/>
<text x="288.30" y="100.11" font-size="7" text-anchor="end" fill="#111" stroke="#111" stroke-width="0.22" >10</text>
<line x1="291.50" y1="108.06" x2="294.50" y2="108.06" stroke="#000" stroke-width="0.8"/>
<text x="288.30" y="110.56" font-size="7" text-anchor="end" fill="#111" stroke="#111" stroke-width="0.22" >5</text>
<line x1="291.50" y1="118.50" x2="294.50" y2="118.50" stroke="#000" stroke-width="0.8"/>
<text x="288.30" y="121.00" font-size="7" text-anchor="end" fill="#111" stroke="#111" stroke-width="0.22" >0</text>
<line x1="291.50" y1="128.94" x2="294.50" y2="128.94" stroke="#000" stroke-width="0.8"/>
<text x="288.30" y="131.44" font-size="7" text-anchor="end" fill="#111" stroke="#111" stroke-width="0.22" >−5</text>
<line x1="291.50" y1="139.39" x2="294.50" y2="139.39" stroke="#000" stroke-width="0.8"/>
<text x="288.30" y="141.89" font-size="7" text-anchor="end" fill="#111" stroke="#111" stroke-width="0.22" >−10</text>
<line x1="294.50" y1="118.50" x2="513.10" y2="118.50" stroke="#000" stroke-width="1"/>
<line x1="307.88" y1="118.50" x2="307.88" y2="121.50" stroke="#000" stroke-width="0.8"/>
<line x1="321.26" y1="118.50" x2="321.26" y2="121.50" stroke="#000" stroke-width="0.8"/>
<line x1="334.64" y1="118.50" x2="334.64" y2="121.50" stroke="#000" stroke-width="0.8"/>
<line x1="348.02" y1="118.50" x2="348.02" y2="121.50" stroke="#000" stroke-width="0.8"/>
<line x1="361.41" y1="118.50" x2="361.41" y2="121.50" stroke="#000" stroke-width="0.8"/>
<line x1="374.79" y1="118.50" x2="374.79" y2="121.50" stroke="#000" stroke-width="0.8"/>
<line x1="388.17" y1="118.50" x2="388.17" y2="121.50" stroke="#000" stroke-width="0.8"/>
<line x1="401.55" y1="118.50" x2="401.55" y2="121.50" stroke="#000" stroke-width="0.8"/>
<line x1="414.93" y1="118.50" x2="414.93" y2="121.50" stroke="#000" stroke-width="0.8"/>
<line x1="428.31" y1="118.50" x2="428.31" y2="121.50" stroke="#000" stroke-width="0.8"/>
<line x1="441.69" y1="118.50" x2="441.69" y2="121.50" stroke="#000" stroke-width="0.8"/>
<line x1="455.08" y1="118.50" x2="455.08" y2="121.50" stroke="#000" stroke-width="0.8"/>
<line x1="468.46" y1="118.50" x2="468.46" y2="121.50" stroke="#000" stroke-width="0.8"/>
<line x1="481.84" y1="118.50" x2="481.84" y2="121.50" stroke="#000" stroke-width="0.8"/>
<line x1="495.22" y1="118.50" x2="495.22" y2="121.50" stroke="#000" stroke-width="0.8"/>
<line x1="508.60" y1="118.50" x2="508.60" y2="121.50" stroke="#000" stroke-width="0.8"/>
<text x="0" y="0" font-size="7.8" text-anchor="end" fill="#111" stroke="#111" stroke-width="0.22" transform="translate(303.89,128.50) rotate(-90)">A0301 alone</text>
<text x="0" y="0" font-size="7.8" text-anchor="end" fill="#111" stroke="#111" stroke-width="0.22" transform="translate(317.27,128.50) rotate(-90)">A0301 + pool</text>
<text x="0" y="0" font-size="7.8" text-anchor="end" fill="#111" stroke="#111" stroke-width="0.22" transform="translate(330.65,128.50) rotate(-90)">B3503 alone</text>
<text x="0" y="0" font-size="7.8" text-anchor="end" fill="#111" stroke="#111" stroke-width="0.22" transform="translate(344.03,128.50) rotate(-90)">B3503 + pool</text>
<text x="0" y="0" font-size="7.8" text-anchor="end" fill="#111" stroke="#111" stroke-width="0.22" transform="translate(357.42,128.50) rotate(-90)">C1203 alone</text>
<text x="0" y="0" font-size="7.8" text-anchor="end" fill="#111" stroke="#111" stroke-width="0.22" transform="translate(370.80,128.50) rotate(-90)">C1203 + pool</text>
<text x="0" y="0" font-size="7.8" text-anchor="end" fill="#111" stroke="#111" stroke-width="0.22" transform="translate(384.18,128.50) rotate(-90)">C0401 alone</text>
<text x="0" y="0" font-size="7.8" text-anchor="end" fill="#111" stroke="#111" stroke-width="0.22" transform="translate(397.56,128.50) rotate(-90)">C0401 + pool</text>
<text x="0" y="0" font-size="7.8" text-anchor="end" fill="#111" stroke="#111" stroke-width="0.22" transform="translate(410.94,128.50) rotate(-90)">DRB1 1401 alone</text>
<text x="0" y="0" font-size="7.8" text-anchor="end" fill="#111" stroke="#111" stroke-width="0.22" transform="translate(424.32,128.50) rotate(-90)">DRB1 1401 + pool</text>
<text x="0" y="0" font-size="7.8" text-anchor="end" fill="#111" stroke="#111" stroke-width="0.22" transform="translate(437.70,128.50) rotate(-90)">DRB1 1305 alone</text>
<text x="0" y="0" font-size="7.8" text-anchor="end" fill="#111" stroke="#111" stroke-width="0.22" transform="translate(451.08,128.50) rotate(-90)">DRB1 1305 + pool</text>
<text x="0" y="0" font-size="7.8" text-anchor="end" fill="#111" stroke="#111" stroke-width="0.22" transform="translate(464.47,128.50) rotate(-90)">DQB1 0503 alone</text>
<text x="0" y="0" font-size="7.8" text-anchor="end" fill="#111" stroke="#111" stroke-width="0.22" transform="translate(477.85,128.50) rotate(-90)">DQB1 0503 + pool</text>
<text x="0" y="0" font-size="7.8" text-anchor="end" fill="#111" stroke="#111" stroke-width="0.22" transform="translate(491.23,128.50) rotate(-90)">DQB1 0301 alone</text>
<text x="0" y="0" font-size="7.8" text-anchor="end" fill="#111" stroke="#111" stroke-width="0.22" transform="translate(504.61,128.50) rotate(-90)">DQB1 0301 + pool</text>
<rect x="297.75" y="336.50" width="4.20" height="2.69" fill="#c3122f"/>
<rect x="308.46" y="326.78" width="4.20" height="9.72" fill="#c3122f"/>
<rect x="319.16" y="334.22" width="4.20" height="2.28" fill="#c3122f"/>
<rect x="329.87" y="292.64" width="4.20" height="43.86" fill="#c3122f"/>
<rect x="340.57" y="328.02" width="4.20" height="8.48" fill="#c3122f"/>
<rect x="351.28" y="328.43" width="4.20" height="8.07" fill="#c3122f"/>
<rect x="361.98" y="336.50" width="4.20" height="2.07" fill="#c3122f"/>
<rect x="372.69" y="324.29" width="4.20" height="12.21" fill="#c3122f"/>
<rect x="383.39" y="336.50" width="4.20" height="15.31" fill="#c3122f"/>
<rect x="394.10" y="336.50" width="4.20" height="11.79" fill="#c3122f"/>
<rect x="404.80" y="335.47" width="4.20" height="1.03" fill="#c3122f"/>
<rect x="415.51" y="333.81" width="4.20" height="2.69" fill="#c3122f"/>
<rect x="426.21" y="336.50" width="4.20" height="0.62" fill="#c3122f"/>
<rect x="436.92" y="269.26" width="4.20" height="67.24" fill="#c3122f"/>
<rect x="447.62" y="336.50" width="4.20" height="6.00" fill="#c3122f"/>
<rect x="458.33" y="331.12" width="4.20" height="5.38" fill="#c3122f"/>
<rect x="469.03" y="336.50" width="4.20" height="10.14" fill="#c3122f"/>
<rect x="479.74" y="332.16" width="4.20" height="4.34" fill="#c3122f"/>
<rect x="490.44" y="336.50" width="4.20" height="2.69" fill="#c3122f"/>
<rect x="501.15" y="294.50" width="4.20" height="42.00" fill="#c3122f"/>
<line x1="294.50" y1="258.71" x2="294.50" y2="358.02" stroke="#000" stroke-width="1"/>
<line x1="291.50" y1="264.09" x2="294.50" y2="264.09" stroke="#000" stroke-width="0.8"/>
<text x="288.30" y="266.59" font-size="7" text-anchor="end" fill="#111" stroke="#111" stroke-width="0.22" >35</text>
<line x1="291.50" y1="274.43" x2="294.50" y2="274.43" stroke="#000" stroke-width="0.8"/>
<text x="288.30" y="276.93" font-size="7" text-anchor="end" fill="#111" stroke="#111" stroke-width="0.22" >30</text>
<line x1="291.50" y1="284.77" x2="294.50" y2="284.77" stroke="#000" stroke-width="0.8"/>
<text x="288.30" y="287.27" font-size="7" text-anchor="end" fill="#111" stroke="#111" stroke-width="0.22" >25</text>
<line x1="291.50" y1="295.12" x2="294.50" y2="295.12" stroke="#000" stroke-width="0.8"/>
<text x="288.30" y="297.62" font-size="7" text-anchor="end" fill="#111" stroke="#111" stroke-width="0.22" >20</text>
<line x1="291.50" y1="305.46" x2="294.50" y2="305.46" stroke="#000" stroke-width="0.8"/>
<text x="288.30" y="307.96" font-size="7" text-anchor="end" fill="#111" stroke="#111" stroke-width="0.22" >15</text>
<line x1="291.50" y1="315.81" x2="294.50" y2="315.81" stroke="#000" stroke-width="0.8"/>
<text x="288.30" y="318.31" font-size="7" text-anchor="end" fill="#111" stroke="#111" stroke-width="0.22" >10</text>
<line x1="291.50" y1="326.15" x2="294.50" y2="326.15" stroke="#000" stroke-width="0.8"/>
<text x="288.30" y="328.65" font-size="7" text-anchor="end" fill="#111" stroke="#111" stroke-width="0.22" >5</text>
<line x1="291.50" y1="336.50" x2="294.50" y2="336.50" stroke="#000" stroke-width="0.8"/>
<text x="288.30" y="339.00" font-size="7" text-anchor="end" fill="#111" stroke="#111" stroke-width="0.22" >0</text>
<line x1="291.50" y1="346.85" x2="294.50" y2="346.85" stroke="#000" stroke-width="0.8"/>
<text x="288.30" y="349.35" font-size="7" text-anchor="end" fill="#111" stroke="#111" stroke-width="0.22" >−5</text>
<line x1="291.50" y1="357.19" x2="294.50" y2="357.19" stroke="#000" stroke-width="0.8"/>
<text x="288.30" y="359.69" font-size="7" text-anchor="end" fill="#111" stroke="#111" stroke-width="0.22" >−10</text>
<line x1="294.50" y1="336.50" x2="513.10" y2="336.50" stroke="#000" stroke-width="1"/>
<line x1="305.20" y1="336.50" x2="305.20" y2="339.50" stroke="#000" stroke-width="0.8"/>
<line x1="315.91" y1="336.50" x2="315.91" y2="339.50" stroke="#000" stroke-width="0.8"/>
<line x1="326.62" y1="336.50" x2="326.62" y2="339.50" stroke="#000" stroke-width="0.8"/>
<line x1="337.32" y1="336.50" x2="337.32" y2="339.50" stroke="#000" stroke-width="0.8"/>
<line x1="348.02" y1="336.50" x2="348.02" y2="339.50" stroke="#000" stroke-width="0.8"/>
<line x1="358.73" y1="336.50" x2="358.73" y2="339.50" stroke="#000" stroke-width="0.8"/>
<line x1="369.44" y1="336.50" x2="369.44" y2="339.50" stroke="#000" stroke-width="0.8"/>
<line x1="380.14" y1="336.50" x2="380.14" y2="339.50" stroke="#000" stroke-width="0.8"/>
<line x1="390.85" y1="336.50" x2="390.85" y2="339.50" stroke="#000" stroke-width="0.8"/>
<line x1="401.55" y1="336.50" x2="401.55" y2="339.50" stroke="#000" stroke-width="0.8"/>
<line x1="412.25" y1="336.50" x2="412.25" y2="339.50" stroke="#000" stroke-width="0.8"/>
<line x1="422.96" y1="336.50" x2="422.96" y2="339.50" stroke="#000" stroke-width="0.8"/>
<line x1="433.67" y1="336.50" x2="433.67" y2="339.50" stroke="#000" stroke-width="0.8"/>
<line x1="444.37" y1="336.50" x2="444.37" y2="339.50" stroke="#000" stroke-width="0.8"/>
<line x1="455.08" y1="336.50" x2="455.08" y2="339.50" stroke="#000" stroke-width="0.8"/>
<line x1="465.78" y1="336.50" x2="465.78" y2="339.50" stroke="#000" stroke-width="0.8"/>
<line x1="476.49" y1="336.50" x2="476.49" y2="339.50" stroke="#000" stroke-width="0.8"/>
<line x1="487.19" y1="336.50" x2="487.19" y2="339.50" stroke="#000" stroke-width="0.8"/>
<line x1="497.90" y1="336.50" x2="497.90" y2="339.50" stroke="#000" stroke-width="0.8"/>
<line x1="508.60" y1="336.50" x2="508.60" y2="339.50" stroke="#000" stroke-width="0.8"/>
<text x="0" y="0" font-size="7.8" text-anchor="end" fill="#111" stroke="#111" stroke-width="0.22" transform="translate(302.55,354.80) rotate(-90)">A2402 alone</text>
<text x="0" y="0" font-size="7.8" text-anchor="end" fill="#111" stroke="#111" stroke-width="0.22" transform="translate(313.26,354.80) rotate(-90)">A2402 + pool</text>
<text x="0" y="0" font-size="7.8" text-anchor="end" fill="#111" stroke="#111" stroke-width="0.22" transform="translate(323.96,354.80) rotate(-90)">A2601 alone</text>
<text x="0" y="0" font-size="7.8" text-anchor="end" fill="#111" stroke="#111" stroke-width="0.22" transform="translate(334.67,354.80) rotate(-90)">A2601 + pool</text>
<text x="0" y="0" font-size="7.8" text-anchor="end" fill="#111" stroke="#111" stroke-width="0.22" transform="translate(345.37,354.80) rotate(-90)">B3502 alone</text>
<text x="0" y="0" font-size="7.8" text-anchor="end" fill="#111" stroke="#111" stroke-width="0.22" transform="translate(356.08,354.80) rotate(-90)">B3502 + pool</text>
<text x="0" y="0" font-size="7.8" text-anchor="end" fill="#111" stroke="#111" stroke-width="0.22" transform="translate(366.78,354.80) rotate(-90)">B3801 alone</text>
<text x="0" y="0" font-size="7.8" text-anchor="end" fill="#111" stroke="#111" stroke-width="0.22" transform="translate(377.49,354.80) rotate(-90)">B3801 + pool</text>
<text x="0" y="0" font-size="7.8" text-anchor="end" fill="#111" stroke="#111" stroke-width="0.22" transform="translate(388.19,354.80) rotate(-90)">C0401 alone</text>
<text x="0" y="0" font-size="7.8" text-anchor="end" fill="#111" stroke="#111" stroke-width="0.22" transform="translate(398.90,354.80) rotate(-90)">C0401 + pool</text>
<text x="0" y="0" font-size="7.8" text-anchor="end" fill="#111" stroke="#111" stroke-width="0.22" transform="translate(409.60,354.80) rotate(-90)">C1203 alone</text>
<text x="0" y="0" font-size="7.8" text-anchor="end" fill="#111" stroke="#111" stroke-width="0.22" transform="translate(420.31,354.80) rotate(-90)">C1203 + pool</text>
<text x="0" y="0" font-size="7.8" text-anchor="end" fill="#111" stroke="#111" stroke-width="0.22" transform="translate(431.01,354.80) rotate(-90)">DRB1 0402 alone</text>
<text x="0" y="0" font-size="7.8" text-anchor="end" fill="#111" stroke="#111" stroke-width="0.22" transform="translate(441.72,354.80) rotate(-90)">DRB1 0402 + pool</text>
<text x="0" y="0" font-size="7.8" text-anchor="end" fill="#111" stroke="#111" stroke-width="0.22" transform="translate(452.42,354.80) rotate(-90)">DRB1 1104 alone</text>
<text x="0" y="0" font-size="7.8" text-anchor="end" fill="#111" stroke="#111" stroke-width="0.22" transform="translate(463.13,354.80) rotate(-90)">DRB1 1104 + pool</text>
<text x="0" y="0" font-size="7.8" text-anchor="end" fill="#111" stroke="#111" stroke-width="0.22" transform="translate(473.83,354.80) rotate(-90)">DQB1 0302 alone</text>
<text x="0" y="0" font-size="7.8" text-anchor="end" fill="#111" stroke="#111" stroke-width="0.22" transform="translate(484.54,354.80) rotate(-90)">DQB1 0302 + pool</text>
<text x="0" y="0" font-size="7.8" text-anchor="end" fill="#111" stroke="#111" stroke-width="0.22" transform="translate(495.24,354.80) rotate(-90)">DQB1 0301 alone</text>
<text x="0" y="0" font-size="7.8" text-anchor="end" fill="#111" stroke="#111" stroke-width="0.22" transform="translate(505.95,354.80) rotate(-90)">DQB1 0301 + pool</text>
<text x="0" y="0" font-size="7.1" text-anchor="middle" fill="#111" stroke="#111" stroke-width="0.22" transform="translate(403.6,272.7) scale(1.09,1)">E:T = 20:1</text>
<text x="0" y="0" font-size="7.6" text-anchor="middle" fill="#111" stroke="#111" stroke-width="0.22" transform="translate(268.4,82.6) rotate(-90) scale(0.875,1)">% Specific lysis</text><rect x="1.5" y="1.5" width="517" height="472" fill="none" stroke="#dcdcdc" stroke-width="1"/><rect x="0.5" y="0.5" width="519" height="474" fill="none" stroke="#000" stroke-width="1"/></svg>
</body></html>
